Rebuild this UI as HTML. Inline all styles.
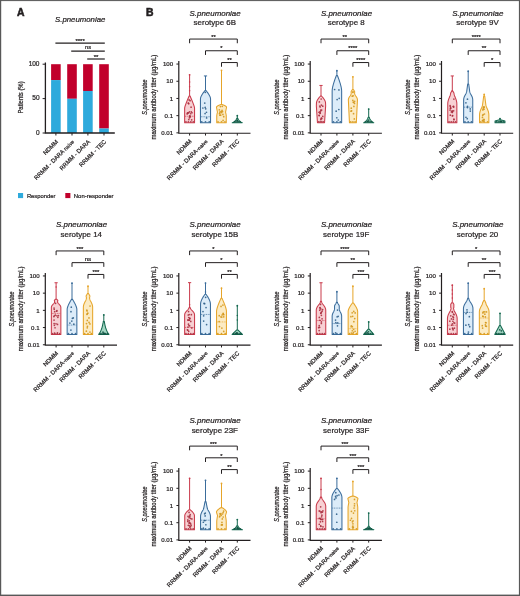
<!DOCTYPE html><html><head><meta charset="utf-8"><style>html,body{margin:0;padding:0;background:#fff;}svg{display:block;filter:blur(0.4px);}text{font-family:"Liberation Sans",sans-serif;stroke:#231f20;stroke-width:0.22px;}</style></head><body><svg width="520" height="596" viewBox="0 0 520 596" font-family="Liberation Sans, sans-serif">
<rect x="0" y="0" width="520" height="596" fill="#fff"/>
<text x="17.0" y="16.0" font-size="10.4" font-weight="bold" fill="#231f20" style="stroke-width:0.55px" textLength="7.5" lengthAdjust="spacingAndGlyphs">A</text>
<text x="145.9" y="16.0" font-size="10.4" font-weight="bold" fill="#231f20" style="stroke-width:0.55px">B</text>
<text x="80.2" y="21.6" font-style="italic" font-size="7.8" text-anchor="middle" fill="#231f20">S.pneumoniae</text>
<rect x="51.1" y="64.2" width="9.6" height="15.88" fill="#c1002b"/>
<rect x="51.1" y="80.08" width="9.6" height="52.92" fill="#2eaadc"/>
<rect x="67.2" y="64.2" width="9.6" height="34.58" fill="#c1002b"/>
<rect x="67.2" y="98.78" width="9.6" height="34.22" fill="#2eaadc"/>
<rect x="83.1" y="64.2" width="9.6" height="26.78" fill="#c1002b"/>
<rect x="83.1" y="90.98" width="9.6" height="42.02" fill="#2eaadc"/>
<rect x="99.2" y="64.2" width="9.6" height="64.31" fill="#c1002b"/>
<rect x="99.2" y="128.51" width="9.6" height="4.49" fill="#2eaadc"/>
<path d="M45.4,62.6 V133 H114.8" fill="none" stroke="#231f20" stroke-width="1.3"/>
<line x1="42.6" y1="64.2" x2="45.4" y2="64.2" stroke="#231f20" stroke-width="1"/>
<text x="39.5" y="65.8" font-size="6.5" text-anchor="end" fill="#231f20">100</text>
<line x1="42.6" y1="98.6" x2="45.4" y2="98.6" stroke="#231f20" stroke-width="1"/>
<text x="39.5" y="100.2" font-size="6.5" text-anchor="end" fill="#231f20">50</text>
<line x1="42.6" y1="133" x2="45.4" y2="133" stroke="#231f20" stroke-width="1"/>
<text x="39.5" y="134.6" font-size="6.5" text-anchor="end" fill="#231f20">0</text>
<text transform="translate(22.8,97.5) rotate(-90)" font-size="7.2" text-anchor="middle" fill="#231f20" textLength="32.2" lengthAdjust="spacingAndGlyphs">Patients (%)</text>
<line x1="55.9" y1="133" x2="55.9" y2="135.5" stroke="#231f20" stroke-width="1"/>
<text transform="translate(58.5,142.2) rotate(-45)" font-size="5.95" text-anchor="end" fill="#231f20">NDMM</text>
<line x1="72" y1="133" x2="72" y2="135.5" stroke="#231f20" stroke-width="1"/>
<text transform="translate(74.6,142.2) rotate(-45)" font-size="5.95" text-anchor="end" fill="#231f20">RRMM - DARA <tspan font-size="5.2">naive</tspan></text>
<line x1="87.9" y1="133" x2="87.9" y2="135.5" stroke="#231f20" stroke-width="1"/>
<text transform="translate(90.5,142.2) rotate(-45)" font-size="5.95" text-anchor="end" fill="#231f20">RRMM - DARA</text>
<line x1="104" y1="133" x2="104" y2="135.5" stroke="#231f20" stroke-width="1"/>
<text transform="translate(106.6,142.2) rotate(-45)" font-size="5.95" text-anchor="end" fill="#231f20">RRMM - TEC</text>
<line x1="55.4" y1="43.1" x2="104.8" y2="43.1" stroke="#231f20" stroke-width="1.2"/>
<text x="80.1" y="42.6" font-size="6" text-anchor="middle" fill="#231f20">****</text>
<line x1="71.2" y1="51.1" x2="104.8" y2="51.1" stroke="#231f20" stroke-width="1.2"/>
<text x="88" y="49.3" font-size="5.8" text-anchor="middle" fill="#231f20">ns</text>
<line x1="87.2" y1="59" x2="104.8" y2="59" stroke="#231f20" stroke-width="1.2"/>
<text x="96" y="58.6" font-size="6" text-anchor="middle" fill="#231f20">**</text>
<rect x="18" y="193" width="5.1" height="5.1" fill="#2eaadc"/>
<text x="26.9" y="197.9" font-size="6.1" fill="#231f20" textLength="28.6" lengthAdjust="spacingAndGlyphs">Responder</text>
<rect x="65.3" y="193" width="5.1" height="5.1" fill="#c1002b"/>
<text x="73.8" y="197.9" font-size="6.1" fill="#231f20" textLength="39.8" lengthAdjust="spacingAndGlyphs">Non-responder</text>
<text x="215.1" y="15.55" font-style="italic" font-size="7.95" text-anchor="middle" fill="#231f20">S.pneumoniae</text>
<text x="214.8" y="25.45" font-size="7.95" text-anchor="middle" fill="#231f20">serotype 6B</text>
<text transform="translate(147.3,97.05) rotate(-90)" font-style="italic" font-size="7.0" text-anchor="middle" fill="#231f20" textLength="35.2" lengthAdjust="spacingAndGlyphs">S.pneumoniae</text>
<text transform="translate(156.3,97.05) rotate(-90)" font-size="7.3" text-anchor="middle" fill="#231f20" textLength="84.8" lengthAdjust="spacingAndGlyphs">maximum antibody titer (µg/mL)</text>
<path d="M178.8,61.05 V133.25 H250.5" fill="none" stroke="#231f20" stroke-width="1.2"/>
<line x1="176.4" y1="64.05" x2="178.8" y2="64.05" stroke="#231f20" stroke-width="1"/>
<text x="173.1" y="66.25" font-size="6.1" text-anchor="end" fill="#231f20">100</text>
<line x1="176.4" y1="81.25" x2="178.8" y2="81.25" stroke="#231f20" stroke-width="1"/>
<text x="173.1" y="83.45" font-size="6.1" text-anchor="end" fill="#231f20">10</text>
<line x1="176.4" y1="98.45" x2="178.8" y2="98.45" stroke="#231f20" stroke-width="1"/>
<text x="173.1" y="100.65" font-size="6.1" text-anchor="end" fill="#231f20">1</text>
<line x1="176.4" y1="115.65" x2="178.8" y2="115.65" stroke="#231f20" stroke-width="1"/>
<text x="173.1" y="117.85" font-size="6.1" text-anchor="end" fill="#231f20">0.1</text>
<line x1="176.4" y1="132.85" x2="178.8" y2="132.85" stroke="#231f20" stroke-width="1"/>
<text x="173.1" y="135.05" font-size="6.1" text-anchor="end" fill="#231f20">0.01</text>
<line x1="189.6" y1="133.25" x2="189.6" y2="135.55" stroke="#231f20" stroke-width="1"/>
<text transform="translate(192.1,141.75) rotate(-45)" font-size="6.0" text-anchor="end" fill="#231f20">NDMM</text>
<line x1="205.5" y1="133.25" x2="205.5" y2="135.55" stroke="#231f20" stroke-width="1"/>
<text transform="translate(208,141.75) rotate(-45)" font-size="6.0" text-anchor="end" fill="#231f20">RRMM - DARA-<tspan font-size="5.0">naive</tspan></text>
<line x1="221.5" y1="133.25" x2="221.5" y2="135.55" stroke="#231f20" stroke-width="1"/>
<text transform="translate(224,141.75) rotate(-45)" font-size="6.0" text-anchor="end" fill="#231f20">RRMM - DARA</text>
<line x1="237.3" y1="133.25" x2="237.3" y2="135.55" stroke="#231f20" stroke-width="1"/>
<text transform="translate(239.8,141.75) rotate(-45)" font-size="6.0" text-anchor="end" fill="#231f20">RRMM - TEC</text>
<path d="M189.6,43.25 V39.05 H237.3 V43.25" fill="none" stroke="#231f20" stroke-width="1.0"/>
<text x="213.45" y="38.75" font-size="5.8" text-anchor="middle" fill="#231f20">**</text>
<path d="M205.5,54.95 V50.75 H237.3 V54.95" fill="none" stroke="#231f20" stroke-width="1.0"/>
<text x="221.4" y="50.45" font-size="5.8" text-anchor="middle" fill="#231f20">*</text>
<path d="M221.5,66.75 V62.55 H237.3 V66.75" fill="none" stroke="#231f20" stroke-width="1.0"/>
<text x="229.4" y="62.25" font-size="5.8" text-anchor="middle" fill="#231f20">**</text>
<line x1="189.6" y1="74.45" x2="189.6" y2="96.05" stroke="#c93a4b" stroke-width="1"/>
<circle cx="189.6" cy="74.85" r="0.9" fill="#c93a4b"/>
<path d="M190.1,96.05 L190.81,97.71 L191.46,99.24 L192.05,100.66 L192.57,101.97 L193.04,103.15 L193.44,104.22 L193.78,105.17 L194.06,106 L194.27,106.71 L194.43,107.31 L194.52,107.79 L194.55,108.15 L194.55,122.65 L184.65,122.65 L184.65,108.15 L184.68,107.79 L184.77,107.31 L184.93,106.71 L185.14,106 L185.42,105.17 L185.76,104.22 L186.16,103.15 L186.63,101.97 L187.15,100.66 L187.74,99.24 L188.39,97.71 L189.1,96.05 Z" fill="#f7d0d3" stroke="#c93a4b" stroke-width="1.05" stroke-linejoin="round"/>
<line x1="185.05" y1="116.25" x2="194.15" y2="116.25" stroke="#c93a4b" stroke-width="0.7" stroke-dasharray="1 0.7"/>
<circle cx="188.52" cy="103.34" r="0.85" fill="#a82e3e" fill-opacity="0.9"/>
<circle cx="188.8" cy="119.56" r="0.85" fill="#a82e3e" fill-opacity="0.9"/>
<circle cx="190.68" cy="113.76" r="0.85" fill="#a82e3e" fill-opacity="0.9"/>
<circle cx="190.08" cy="100.7" r="0.85" fill="#a82e3e" fill-opacity="0.9"/>
<circle cx="187.19" cy="113.96" r="0.85" fill="#a82e3e" fill-opacity="0.9"/>
<circle cx="191.28" cy="111.97" r="0.85" fill="#a82e3e" fill-opacity="0.9"/>
<circle cx="189.44" cy="111.88" r="0.85" fill="#a82e3e" fill-opacity="0.9"/>
<circle cx="189.81" cy="116.2" r="0.85" fill="#a82e3e" fill-opacity="0.9"/>
<circle cx="187.37" cy="113.07" r="0.85" fill="#a82e3e" fill-opacity="0.9"/>
<circle cx="191.08" cy="107.18" r="0.85" fill="#a82e3e" fill-opacity="0.9"/>
<circle cx="188.7" cy="103.76" r="0.85" fill="#a82e3e" fill-opacity="0.9"/>
<circle cx="189.42" cy="117.84" r="0.85" fill="#a82e3e" fill-opacity="0.9"/>
<circle cx="189.87" cy="115.81" r="0.85" fill="#a82e3e" fill-opacity="0.9"/>
<circle cx="187.87" cy="112.81" r="0.85" fill="#a82e3e" fill-opacity="0.9"/>
<circle cx="190.25" cy="116.91" r="0.85" fill="#a82e3e" fill-opacity="0.9"/>
<circle cx="188.26" cy="102.98" r="0.85" fill="#a82e3e" fill-opacity="0.9"/>
<circle cx="192.03" cy="112.75" r="0.85" fill="#a82e3e" fill-opacity="0.9"/>
<circle cx="188.44" cy="112.91" r="0.85" fill="#a82e3e" fill-opacity="0.9"/>
<circle cx="191.68" cy="119.84" r="0.85" fill="#a82e3e" fill-opacity="0.9"/>
<circle cx="189.1" cy="99.97" r="0.85" fill="#a82e3e" fill-opacity="0.9"/>
<circle cx="185.95" cy="121.75" r="0.85" fill="#a82e3e" fill-opacity="0.9"/>
<circle cx="188.38" cy="121.75" r="0.85" fill="#a82e3e" fill-opacity="0.9"/>
<circle cx="190.82" cy="121.75" r="0.85" fill="#a82e3e" fill-opacity="0.9"/>
<circle cx="193.25" cy="121.75" r="0.85" fill="#a82e3e" fill-opacity="0.9"/>
<circle cx="189.6" cy="81.95" r="0.75" fill="#c93a4b"/>
<circle cx="189.6" cy="86.65" r="0.75" fill="#c93a4b"/>
<circle cx="189.6" cy="90.65" r="0.75" fill="#c93a4b"/>
<line x1="205.5" y1="75.95" x2="205.5" y2="90.55" stroke="#3a6c9b" stroke-width="1"/>
<line x1="203.9" y1="75.95" x2="207.1" y2="75.95" stroke="#3a6c9b" stroke-width="1"/>
<path d="M206,90.55 L206.73,91.45 L207.39,92.32 L207.99,93.15 L208.53,93.95 L209,94.71 L209.41,95.44 L209.76,96.13 L210.04,96.78 L210.27,97.4 L210.42,97.99 L210.52,98.54 L210.55,99.05 L210.55,122.65 L200.45,122.65 L200.45,99.05 L200.48,98.54 L200.58,97.99 L200.73,97.4 L200.96,96.78 L201.24,96.13 L201.59,95.44 L202,94.71 L202.47,93.95 L203.01,93.15 L203.61,92.32 L204.27,91.45 L205,90.55 Z" fill="#dcecf9" stroke="#3a6c9b" stroke-width="1.05" stroke-linejoin="round"/>
<line x1="200.85" y1="116.75" x2="210.15" y2="116.75" stroke="#3a6c9b" stroke-width="0.7" stroke-dasharray="1 0.7"/>
<circle cx="206.45" cy="112.26" r="0.85" fill="#2f5f8a" fill-opacity="0.9"/>
<circle cx="205.73" cy="108.83" r="0.85" fill="#2f5f8a" fill-opacity="0.9"/>
<circle cx="205.07" cy="113.53" r="0.85" fill="#2f5f8a" fill-opacity="0.9"/>
<circle cx="206.61" cy="117.97" r="0.85" fill="#2f5f8a" fill-opacity="0.9"/>
<circle cx="204.75" cy="103.11" r="0.85" fill="#2f5f8a" fill-opacity="0.9"/>
<circle cx="205.18" cy="107.43" r="0.85" fill="#2f5f8a" fill-opacity="0.9"/>
<circle cx="205.28" cy="92.32" r="0.85" fill="#2f5f8a" fill-opacity="0.9"/>
<circle cx="202.88" cy="108" r="0.85" fill="#2f5f8a" fill-opacity="0.9"/>
<circle cx="201.75" cy="121.75" r="0.85" fill="#2f5f8a" fill-opacity="0.9"/>
<circle cx="205.5" cy="121.75" r="0.85" fill="#2f5f8a" fill-opacity="0.9"/>
<circle cx="209.25" cy="121.75" r="0.85" fill="#2f5f8a" fill-opacity="0.9"/>
<line x1="221.5" y1="69.95" x2="221.5" y2="104.45" stroke="#e6a52a" stroke-width="1"/>
<circle cx="221.5" cy="70.35" r="0.9" fill="#e6a52a"/>
<path d="M222,104.45 L222.73,104.73 L223.39,104.99 L223.99,105.25 L224.53,105.51 L225,105.75 L225.41,105.99 L225.76,106.22 L226.04,106.44 L226.27,106.66 L226.42,106.86 L226.52,107.06 L226.55,107.25 L225.55,112.15 L225.66,112.59 L225.76,113.02 L225.86,113.42 L225.94,113.8 L226.01,114.15 L226.07,114.49 L226.13,114.8 L226.17,115.1 L226.21,115.37 L226.23,115.62 L226.25,115.84 L226.25,116.05 L226.25,122.65 L216.75,122.65 L216.75,116.05 L216.75,115.84 L216.77,115.62 L216.79,115.37 L216.83,115.1 L216.87,114.8 L216.93,114.49 L216.99,114.15 L217.06,113.8 L217.14,113.42 L217.24,113.02 L217.34,112.59 L217.45,112.15 L216.45,107.25 L216.48,107.06 L216.58,106.86 L216.73,106.66 L216.96,106.44 L217.24,106.22 L217.59,105.99 L218,105.75 L218.47,105.51 L219.01,105.25 L219.61,104.99 L220.27,104.73 L221,104.45 Z" fill="#fcebc3" stroke="#e6a52a" stroke-width="1.05" stroke-linejoin="round"/>
<circle cx="219.32" cy="109.78" r="0.85" fill="#d4981c" fill-opacity="0.9"/>
<circle cx="222.56" cy="111.61" r="0.85" fill="#d4981c" fill-opacity="0.9"/>
<circle cx="219.85" cy="115.16" r="0.85" fill="#d4981c" fill-opacity="0.9"/>
<circle cx="222.3" cy="106.37" r="0.85" fill="#d4981c" fill-opacity="0.9"/>
<circle cx="219.89" cy="112.84" r="0.85" fill="#d4981c" fill-opacity="0.9"/>
<circle cx="221.24" cy="111.46" r="0.85" fill="#d4981c" fill-opacity="0.9"/>
<circle cx="220.67" cy="115.21" r="0.85" fill="#d4981c" fill-opacity="0.9"/>
<circle cx="223.72" cy="116.68" r="0.85" fill="#d4981c" fill-opacity="0.9"/>
<circle cx="219.49" cy="113.57" r="0.85" fill="#d4981c" fill-opacity="0.9"/>
<circle cx="221.52" cy="112.6" r="0.85" fill="#d4981c" fill-opacity="0.9"/>
<circle cx="223.08" cy="120.42" r="0.85" fill="#d4981c" fill-opacity="0.9"/>
<circle cx="222.93" cy="114.43" r="0.85" fill="#d4981c" fill-opacity="0.9"/>
<circle cx="222.06" cy="110.27" r="0.85" fill="#d4981c" fill-opacity="0.9"/>
<circle cx="220.03" cy="111.73" r="0.85" fill="#d4981c" fill-opacity="0.9"/>
<circle cx="220.43" cy="106.61" r="0.85" fill="#d4981c" fill-opacity="0.9"/>
<circle cx="218.05" cy="121.75" r="0.85" fill="#d4981c" fill-opacity="0.9"/>
<circle cx="221.5" cy="121.75" r="0.85" fill="#d4981c" fill-opacity="0.9"/>
<circle cx="224.95" cy="121.75" r="0.85" fill="#d4981c" fill-opacity="0.9"/>
<line x1="237.3" y1="115.25" x2="237.3" y2="118.35" stroke="#14684f" stroke-width="1"/>
<circle cx="237.3" cy="115.65" r="0.9" fill="#14684f"/>
<path d="M237.8,118.35 L238.04,118.84 L238.31,119.31 L238.6,119.75 L238.91,120.17 L239.25,120.56 L239.62,120.93 L240.01,121.28 L240.43,121.6 L240.87,121.9 L241.34,122.17 L241.83,122.42 L242.35,122.65 L232.25,122.65 L232.77,122.42 L233.26,122.17 L233.73,121.9 L234.17,121.6 L234.59,121.28 L234.98,120.93 L235.35,120.56 L235.69,120.17 L236,119.75 L236.29,119.31 L236.56,118.84 L236.8,118.35 Z" fill="#a3d6c3" stroke="#14684f" stroke-width="1.05" stroke-linejoin="round"/>
<circle cx="237.3" cy="120.28" r="0.85" fill="#0f5040" fill-opacity="0.9"/>
<circle cx="237.13" cy="120.32" r="0.85" fill="#0f5040" fill-opacity="0.9"/>
<circle cx="234.6" cy="121.75" r="0.85" fill="#0f5040" fill-opacity="0.9"/>
<circle cx="235.95" cy="121.75" r="0.85" fill="#0f5040" fill-opacity="0.9"/>
<circle cx="237.3" cy="121.75" r="0.85" fill="#0f5040" fill-opacity="0.9"/>
<circle cx="238.65" cy="121.75" r="0.85" fill="#0f5040" fill-opacity="0.9"/>
<circle cx="240" cy="121.75" r="0.85" fill="#0f5040" fill-opacity="0.9"/>
<text x="346.5" y="15.55" font-style="italic" font-size="7.95" text-anchor="middle" fill="#231f20">S.pneumoniae</text>
<text x="346.2" y="25.45" font-size="7.95" text-anchor="middle" fill="#231f20">serotype 8</text>
<text transform="translate(278.7,97.05) rotate(-90)" font-style="italic" font-size="7.0" text-anchor="middle" fill="#231f20" textLength="35.2" lengthAdjust="spacingAndGlyphs">S.pneumoniae</text>
<text transform="translate(287.7,97.05) rotate(-90)" font-size="7.3" text-anchor="middle" fill="#231f20" textLength="84.8" lengthAdjust="spacingAndGlyphs">maximum antibody titer (µg/mL)</text>
<path d="M310.2,61.05 V133.25 H381.9" fill="none" stroke="#231f20" stroke-width="1.2"/>
<line x1="307.8" y1="64.05" x2="310.2" y2="64.05" stroke="#231f20" stroke-width="1"/>
<text x="304.5" y="66.25" font-size="6.1" text-anchor="end" fill="#231f20">100</text>
<line x1="307.8" y1="81.25" x2="310.2" y2="81.25" stroke="#231f20" stroke-width="1"/>
<text x="304.5" y="83.45" font-size="6.1" text-anchor="end" fill="#231f20">10</text>
<line x1="307.8" y1="98.45" x2="310.2" y2="98.45" stroke="#231f20" stroke-width="1"/>
<text x="304.5" y="100.65" font-size="6.1" text-anchor="end" fill="#231f20">1</text>
<line x1="307.8" y1="115.65" x2="310.2" y2="115.65" stroke="#231f20" stroke-width="1"/>
<text x="304.5" y="117.85" font-size="6.1" text-anchor="end" fill="#231f20">0.1</text>
<line x1="307.8" y1="132.85" x2="310.2" y2="132.85" stroke="#231f20" stroke-width="1"/>
<text x="304.5" y="135.05" font-size="6.1" text-anchor="end" fill="#231f20">0.01</text>
<line x1="321" y1="133.25" x2="321" y2="135.55" stroke="#231f20" stroke-width="1"/>
<text transform="translate(323.5,141.75) rotate(-45)" font-size="6.0" text-anchor="end" fill="#231f20">NDMM</text>
<line x1="336.9" y1="133.25" x2="336.9" y2="135.55" stroke="#231f20" stroke-width="1"/>
<text transform="translate(339.4,141.75) rotate(-45)" font-size="6.0" text-anchor="end" fill="#231f20">RRMM - DARA-<tspan font-size="5.0">naive</tspan></text>
<line x1="352.9" y1="133.25" x2="352.9" y2="135.55" stroke="#231f20" stroke-width="1"/>
<text transform="translate(355.4,141.75) rotate(-45)" font-size="6.0" text-anchor="end" fill="#231f20">RRMM - DARA</text>
<line x1="368.7" y1="133.25" x2="368.7" y2="135.55" stroke="#231f20" stroke-width="1"/>
<text transform="translate(371.2,141.75) rotate(-45)" font-size="6.0" text-anchor="end" fill="#231f20">RRMM - TEC</text>
<path d="M321,43.25 V39.05 H368.7 V43.25" fill="none" stroke="#231f20" stroke-width="1.0"/>
<text x="344.85" y="38.75" font-size="5.8" text-anchor="middle" fill="#231f20">**</text>
<path d="M336.9,54.95 V50.75 H368.7 V54.95" fill="none" stroke="#231f20" stroke-width="1.0"/>
<text x="352.8" y="50.45" font-size="5.8" text-anchor="middle" fill="#231f20">****</text>
<path d="M352.9,66.75 V62.55 H368.7 V66.75" fill="none" stroke="#231f20" stroke-width="1.0"/>
<text x="360.8" y="62.25" font-size="5.8" text-anchor="middle" fill="#231f20">****</text>
<line x1="321" y1="85.45" x2="321" y2="96.05" stroke="#c93a4b" stroke-width="1"/>
<line x1="319.4" y1="85.45" x2="322.6" y2="85.45" stroke="#c93a4b" stroke-width="1"/>
<path d="M321.5,96.05 L322.15,96.75 L322.74,97.43 L323.27,98.09 L323.75,98.73 L324.17,99.35 L324.54,99.96 L324.85,100.54 L325.1,101.1 L325.3,101.64 L325.44,102.16 L325.52,102.67 L325.55,103.15 L325.57,103.55 L325.58,103.92 L325.59,104.26 L325.61,104.57 L325.62,104.85 L325.62,105.11 L325.63,105.34 L325.64,105.53 L325.64,105.71 L325.65,105.85 L325.65,105.96 L325.65,106.05 L324.55,122.65 L317.45,122.65 L316.35,106.05 L316.35,105.96 L316.35,105.85 L316.36,105.71 L316.36,105.53 L316.37,105.34 L316.38,105.11 L316.38,104.85 L316.39,104.57 L316.41,104.26 L316.42,103.92 L316.43,103.55 L316.45,103.15 L316.48,102.67 L316.56,102.16 L316.7,101.64 L316.9,101.1 L317.15,100.54 L317.46,99.96 L317.83,99.35 L318.25,98.73 L318.73,98.09 L319.26,97.43 L319.85,96.75 L320.5,96.05 Z" fill="#f7d0d3" stroke="#c93a4b" stroke-width="1.05" stroke-linejoin="round"/>
<circle cx="321.64" cy="110.11" r="0.85" fill="#a82e3e" fill-opacity="0.9"/>
<circle cx="322.75" cy="106.16" r="0.85" fill="#a82e3e" fill-opacity="0.9"/>
<circle cx="318.99" cy="112.23" r="0.85" fill="#a82e3e" fill-opacity="0.9"/>
<circle cx="319.36" cy="101.91" r="0.85" fill="#a82e3e" fill-opacity="0.9"/>
<circle cx="321.36" cy="118.17" r="0.85" fill="#a82e3e" fill-opacity="0.9"/>
<circle cx="321.33" cy="118.62" r="0.85" fill="#a82e3e" fill-opacity="0.9"/>
<circle cx="319.88" cy="106.03" r="0.85" fill="#a82e3e" fill-opacity="0.9"/>
<circle cx="320.12" cy="106.99" r="0.85" fill="#a82e3e" fill-opacity="0.9"/>
<circle cx="320.82" cy="119.61" r="0.85" fill="#a82e3e" fill-opacity="0.9"/>
<circle cx="320.25" cy="112.94" r="0.85" fill="#a82e3e" fill-opacity="0.9"/>
<circle cx="319.93" cy="111.82" r="0.85" fill="#a82e3e" fill-opacity="0.9"/>
<circle cx="320.68" cy="111" r="0.85" fill="#a82e3e" fill-opacity="0.9"/>
<circle cx="319.09" cy="115.36" r="0.85" fill="#a82e3e" fill-opacity="0.9"/>
<circle cx="321.42" cy="105.12" r="0.85" fill="#a82e3e" fill-opacity="0.9"/>
<circle cx="321.16" cy="99.02" r="0.85" fill="#a82e3e" fill-opacity="0.9"/>
<circle cx="319.23" cy="115.61" r="0.85" fill="#a82e3e" fill-opacity="0.9"/>
<circle cx="321.71" cy="118.48" r="0.85" fill="#a82e3e" fill-opacity="0.9"/>
<circle cx="320.09" cy="113.28" r="0.85" fill="#a82e3e" fill-opacity="0.9"/>
<circle cx="322.76" cy="116.4" r="0.85" fill="#a82e3e" fill-opacity="0.9"/>
<circle cx="320.76" cy="110" r="0.85" fill="#a82e3e" fill-opacity="0.9"/>
<circle cx="318.72" cy="121.75" r="0.85" fill="#a82e3e" fill-opacity="0.9"/>
<circle cx="320.24" cy="121.75" r="0.85" fill="#a82e3e" fill-opacity="0.9"/>
<circle cx="321.76" cy="121.75" r="0.85" fill="#a82e3e" fill-opacity="0.9"/>
<circle cx="323.28" cy="121.75" r="0.85" fill="#a82e3e" fill-opacity="0.9"/>
<line x1="336.9" y1="70.35" x2="336.9" y2="75.45" stroke="#3a6c9b" stroke-width="1"/>
<circle cx="336.9" cy="70.75" r="0.9" fill="#3a6c9b"/>
<path d="M337.4,75.45 L338.08,77.23 L338.7,78.92 L339.26,80.52 L339.76,82.04 L340.2,83.47 L340.59,84.81 L340.91,86.07 L341.18,87.24 L341.38,88.32 L341.53,89.32 L341.62,90.23 L341.65,91.05 L341.65,122.65 L332.15,122.65 L332.15,91.05 L332.18,90.23 L332.27,89.32 L332.42,88.32 L332.62,87.24 L332.89,86.07 L333.21,84.81 L333.6,83.47 L334.04,82.04 L334.54,80.52 L335.1,78.92 L335.72,77.23 L336.4,75.45 Z" fill="#dcecf9" stroke="#3a6c9b" stroke-width="1.05" stroke-linejoin="round"/>
<circle cx="334.61" cy="89.52" r="0.85" fill="#2f5f8a" fill-opacity="0.9"/>
<circle cx="338.83" cy="109.52" r="0.85" fill="#2f5f8a" fill-opacity="0.9"/>
<circle cx="338.27" cy="119.99" r="0.85" fill="#2f5f8a" fill-opacity="0.9"/>
<circle cx="338.94" cy="89.88" r="0.85" fill="#2f5f8a" fill-opacity="0.9"/>
<circle cx="336.81" cy="117.76" r="0.85" fill="#2f5f8a" fill-opacity="0.9"/>
<circle cx="336.16" cy="111.18" r="0.85" fill="#2f5f8a" fill-opacity="0.9"/>
<circle cx="339.2" cy="98.3" r="0.85" fill="#2f5f8a" fill-opacity="0.9"/>
<circle cx="337.12" cy="99.53" r="0.85" fill="#2f5f8a" fill-opacity="0.9"/>
<circle cx="333.45" cy="121.75" r="0.85" fill="#2f5f8a" fill-opacity="0.9"/>
<circle cx="336.9" cy="121.75" r="0.85" fill="#2f5f8a" fill-opacity="0.9"/>
<circle cx="340.35" cy="121.75" r="0.85" fill="#2f5f8a" fill-opacity="0.9"/>
<line x1="352.9" y1="76.45" x2="352.9" y2="89.55" stroke="#e6a52a" stroke-width="1"/>
<circle cx="352.9" cy="76.85" r="0.9" fill="#e6a52a"/>
<path d="M353.4,89.55 L354.65,91.55 L354.65,93.55 L354.73,93.97 L354.85,94.36 L355.01,94.74 L355.21,95.11 L355.42,95.48 L355.66,95.84 L355.91,96.19 L356.15,96.56 L356.4,96.93 L356.64,97.31 L356.86,97.7 L357.05,98.12 L357.22,98.56 L357.34,99.02 L357.42,99.52 L357.45,100.05 L356.35,122.65 L349.45,122.65 L348.35,100.05 L348.38,99.52 L348.46,99.02 L348.58,98.56 L348.75,98.12 L348.94,97.7 L349.16,97.31 L349.4,96.93 L349.64,96.56 L349.89,96.19 L350.14,95.84 L350.38,95.48 L350.59,95.11 L350.79,94.74 L350.95,94.36 L351.07,93.97 L351.15,93.55 L351.15,91.55 L352.4,89.55 Z" fill="#fcebc3" stroke="#e6a52a" stroke-width="1.05" stroke-linejoin="round"/>
<circle cx="351.26" cy="108.17" r="0.85" fill="#d4981c" fill-opacity="0.9"/>
<circle cx="354.5" cy="103.42" r="0.85" fill="#d4981c" fill-opacity="0.9"/>
<circle cx="353.52" cy="102.33" r="0.85" fill="#d4981c" fill-opacity="0.9"/>
<circle cx="351.61" cy="110.8" r="0.85" fill="#d4981c" fill-opacity="0.9"/>
<circle cx="353.42" cy="102.27" r="0.85" fill="#d4981c" fill-opacity="0.9"/>
<circle cx="352.22" cy="96.19" r="0.85" fill="#d4981c" fill-opacity="0.9"/>
<circle cx="353.89" cy="106.44" r="0.85" fill="#d4981c" fill-opacity="0.9"/>
<circle cx="353.54" cy="113.69" r="0.85" fill="#d4981c" fill-opacity="0.9"/>
<circle cx="353.15" cy="95.84" r="0.85" fill="#d4981c" fill-opacity="0.9"/>
<circle cx="351.01" cy="111.2" r="0.85" fill="#d4981c" fill-opacity="0.9"/>
<circle cx="354.63" cy="101.32" r="0.85" fill="#d4981c" fill-opacity="0.9"/>
<circle cx="352.87" cy="92.29" r="0.85" fill="#d4981c" fill-opacity="0.9"/>
<circle cx="352.84" cy="100.47" r="0.85" fill="#d4981c" fill-opacity="0.9"/>
<circle cx="354.3" cy="118.92" r="0.85" fill="#d4981c" fill-opacity="0.9"/>
<circle cx="353.05" cy="91.78" r="0.85" fill="#d4981c" fill-opacity="0.9"/>
<circle cx="350.73" cy="121.75" r="0.85" fill="#d4981c" fill-opacity="0.9"/>
<circle cx="352.9" cy="121.75" r="0.85" fill="#d4981c" fill-opacity="0.9"/>
<circle cx="355.07" cy="121.75" r="0.85" fill="#d4981c" fill-opacity="0.9"/>
<line x1="368.7" y1="108.65" x2="368.7" y2="117.25" stroke="#14684f" stroke-width="1"/>
<circle cx="368.7" cy="109.05" r="0.9" fill="#14684f"/>
<path d="M369.2,117.25 L369.44,117.86 L369.71,118.45 L370,119.01 L370.31,119.53 L370.65,120.02 L371.02,120.49 L371.41,120.93 L371.83,121.33 L372.27,121.71 L372.74,122.05 L373.23,122.37 L373.75,122.65 L363.65,122.65 L364.17,122.37 L364.66,122.05 L365.13,121.71 L365.57,121.33 L365.99,120.93 L366.38,120.49 L366.75,120.02 L367.09,119.53 L367.4,119.01 L367.69,118.45 L367.96,117.86 L368.2,117.25 Z" fill="#a3d6c3" stroke="#14684f" stroke-width="1.05" stroke-linejoin="round"/>
<circle cx="367.8" cy="121.11" r="0.85" fill="#0f5040" fill-opacity="0.9"/>
<circle cx="368.75" cy="120.04" r="0.85" fill="#0f5040" fill-opacity="0.9"/>
<circle cx="365.8" cy="121.75" r="0.85" fill="#0f5040" fill-opacity="0.9"/>
<circle cx="367.25" cy="121.75" r="0.85" fill="#0f5040" fill-opacity="0.9"/>
<circle cx="368.7" cy="121.75" r="0.85" fill="#0f5040" fill-opacity="0.9"/>
<circle cx="370.15" cy="121.75" r="0.85" fill="#0f5040" fill-opacity="0.9"/>
<circle cx="371.6" cy="121.75" r="0.85" fill="#0f5040" fill-opacity="0.9"/>
<text x="477.8" y="15.55" font-style="italic" font-size="7.95" text-anchor="middle" fill="#231f20">S.pneumoniae</text>
<text x="477.5" y="25.45" font-size="7.95" text-anchor="middle" fill="#231f20">serotype 9V</text>
<text transform="translate(410,97.05) rotate(-90)" font-style="italic" font-size="7.0" text-anchor="middle" fill="#231f20" textLength="35.2" lengthAdjust="spacingAndGlyphs">S.pneumoniae</text>
<text transform="translate(419,97.05) rotate(-90)" font-size="7.3" text-anchor="middle" fill="#231f20" textLength="84.8" lengthAdjust="spacingAndGlyphs">maximum antibody titer (µg/mL)</text>
<path d="M441.5,61.05 V133.25 H513.2" fill="none" stroke="#231f20" stroke-width="1.2"/>
<line x1="439.1" y1="64.05" x2="441.5" y2="64.05" stroke="#231f20" stroke-width="1"/>
<text x="435.8" y="66.25" font-size="6.1" text-anchor="end" fill="#231f20">100</text>
<line x1="439.1" y1="81.25" x2="441.5" y2="81.25" stroke="#231f20" stroke-width="1"/>
<text x="435.8" y="83.45" font-size="6.1" text-anchor="end" fill="#231f20">10</text>
<line x1="439.1" y1="98.45" x2="441.5" y2="98.45" stroke="#231f20" stroke-width="1"/>
<text x="435.8" y="100.65" font-size="6.1" text-anchor="end" fill="#231f20">1</text>
<line x1="439.1" y1="115.65" x2="441.5" y2="115.65" stroke="#231f20" stroke-width="1"/>
<text x="435.8" y="117.85" font-size="6.1" text-anchor="end" fill="#231f20">0.1</text>
<line x1="439.1" y1="132.85" x2="441.5" y2="132.85" stroke="#231f20" stroke-width="1"/>
<text x="435.8" y="135.05" font-size="6.1" text-anchor="end" fill="#231f20">0.01</text>
<line x1="452.3" y1="133.25" x2="452.3" y2="135.55" stroke="#231f20" stroke-width="1"/>
<text transform="translate(454.8,141.75) rotate(-45)" font-size="6.0" text-anchor="end" fill="#231f20">NDMM</text>
<line x1="468.2" y1="133.25" x2="468.2" y2="135.55" stroke="#231f20" stroke-width="1"/>
<text transform="translate(470.7,141.75) rotate(-45)" font-size="6.0" text-anchor="end" fill="#231f20">RRMM - DARA-<tspan font-size="5.0">naive</tspan></text>
<line x1="484.2" y1="133.25" x2="484.2" y2="135.55" stroke="#231f20" stroke-width="1"/>
<text transform="translate(486.7,141.75) rotate(-45)" font-size="6.0" text-anchor="end" fill="#231f20">RRMM - DARA</text>
<line x1="500" y1="133.25" x2="500" y2="135.55" stroke="#231f20" stroke-width="1"/>
<text transform="translate(502.5,141.75) rotate(-45)" font-size="6.0" text-anchor="end" fill="#231f20">RRMM - TEC</text>
<path d="M452.3,43.25 V39.05 H500 V43.25" fill="none" stroke="#231f20" stroke-width="1.0"/>
<text x="476.15" y="38.75" font-size="5.8" text-anchor="middle" fill="#231f20">****</text>
<path d="M468.2,54.95 V50.75 H500 V54.95" fill="none" stroke="#231f20" stroke-width="1.0"/>
<text x="484.1" y="50.45" font-size="5.8" text-anchor="middle" fill="#231f20">**</text>
<path d="M484.2,66.75 V62.55 H500 V66.75" fill="none" stroke="#231f20" stroke-width="1.0"/>
<text x="492.1" y="62.25" font-size="5.8" text-anchor="middle" fill="#231f20">*</text>
<line x1="452.3" y1="75.95" x2="452.3" y2="91.05" stroke="#c93a4b" stroke-width="1"/>
<line x1="450.7" y1="75.95" x2="453.9" y2="75.95" stroke="#c93a4b" stroke-width="1"/>
<path d="M452.8,91.05 L453.95,93.05 L454.03,93.75 L454.16,94.42 L454.33,95.07 L454.53,95.7 L454.75,96.31 L455,96.92 L455.25,97.52 L455.51,98.14 L455.76,98.76 L456.01,99.41 L456.24,100.08 L456.44,100.78 L456.61,101.53 L456.74,102.31 L456.82,103.15 L456.85,104.05 L456.85,122.65 L447.75,122.65 L447.75,104.05 L447.78,103.15 L447.86,102.31 L447.99,101.53 L448.16,100.78 L448.36,100.08 L448.59,99.41 L448.84,98.76 L449.09,98.14 L449.35,97.52 L449.6,96.92 L449.85,96.31 L450.07,95.7 L450.27,95.07 L450.44,94.42 L450.57,93.75 L450.65,93.05 L451.8,91.05 Z" fill="#f7d0d3" stroke="#c93a4b" stroke-width="1.05" stroke-linejoin="round"/>
<circle cx="452.41" cy="111.61" r="0.85" fill="#a82e3e" fill-opacity="0.9"/>
<circle cx="453.59" cy="110.8" r="0.85" fill="#a82e3e" fill-opacity="0.9"/>
<circle cx="453.95" cy="119.22" r="0.85" fill="#a82e3e" fill-opacity="0.9"/>
<circle cx="453.73" cy="107.05" r="0.85" fill="#a82e3e" fill-opacity="0.9"/>
<circle cx="452.62" cy="115.48" r="0.85" fill="#a82e3e" fill-opacity="0.9"/>
<circle cx="453.13" cy="106.59" r="0.85" fill="#a82e3e" fill-opacity="0.9"/>
<circle cx="453.87" cy="99.12" r="0.85" fill="#a82e3e" fill-opacity="0.9"/>
<circle cx="450.43" cy="106.24" r="0.85" fill="#a82e3e" fill-opacity="0.9"/>
<circle cx="450.56" cy="108.33" r="0.85" fill="#a82e3e" fill-opacity="0.9"/>
<circle cx="450.05" cy="110.1" r="0.85" fill="#a82e3e" fill-opacity="0.9"/>
<circle cx="452.1" cy="110.82" r="0.85" fill="#a82e3e" fill-opacity="0.9"/>
<circle cx="452.43" cy="115.89" r="0.85" fill="#a82e3e" fill-opacity="0.9"/>
<circle cx="452.32" cy="112.38" r="0.85" fill="#a82e3e" fill-opacity="0.9"/>
<circle cx="450.3" cy="115.19" r="0.85" fill="#a82e3e" fill-opacity="0.9"/>
<circle cx="451.38" cy="111.96" r="0.85" fill="#a82e3e" fill-opacity="0.9"/>
<circle cx="453.9" cy="119.64" r="0.85" fill="#a82e3e" fill-opacity="0.9"/>
<circle cx="450.59" cy="107.67" r="0.85" fill="#a82e3e" fill-opacity="0.9"/>
<circle cx="450.51" cy="108.44" r="0.85" fill="#a82e3e" fill-opacity="0.9"/>
<circle cx="453.54" cy="106.34" r="0.85" fill="#a82e3e" fill-opacity="0.9"/>
<circle cx="450.08" cy="105.65" r="0.85" fill="#a82e3e" fill-opacity="0.9"/>
<circle cx="449.05" cy="121.75" r="0.85" fill="#a82e3e" fill-opacity="0.9"/>
<circle cx="451.22" cy="121.75" r="0.85" fill="#a82e3e" fill-opacity="0.9"/>
<circle cx="453.38" cy="121.75" r="0.85" fill="#a82e3e" fill-opacity="0.9"/>
<circle cx="455.55" cy="121.75" r="0.85" fill="#a82e3e" fill-opacity="0.9"/>
<circle cx="452.3" cy="90.65" r="0.75" fill="#c93a4b"/>
<line x1="468.2" y1="70.85" x2="468.2" y2="83.95" stroke="#3a6c9b" stroke-width="1"/>
<circle cx="468.2" cy="71.25" r="0.9" fill="#3a6c9b"/>
<path d="M468.7,83.95 L469.65,91.05 L469.74,91.63 L469.87,92.17 L470.05,92.7 L470.27,93.22 L470.51,93.72 L470.77,94.21 L471.04,94.71 L471.32,95.21 L471.59,95.72 L471.85,96.25 L472.09,96.8 L472.31,97.38 L472.49,97.99 L472.63,98.63 L472.72,99.32 L472.75,100.05 L472.75,122.65 L463.65,122.65 L463.65,100.05 L463.68,99.32 L463.77,98.63 L463.91,97.99 L464.09,97.38 L464.31,96.8 L464.55,96.25 L464.81,95.72 L465.08,95.21 L465.36,94.71 L465.63,94.21 L465.89,93.72 L466.13,93.22 L466.35,92.7 L466.53,92.17 L466.66,91.63 L466.75,91.05 L467.7,83.95 Z" fill="#dcecf9" stroke="#3a6c9b" stroke-width="1.05" stroke-linejoin="round"/>
<line x1="464.05" y1="107.15" x2="472.35" y2="107.15" stroke="#3a6c9b" stroke-width="0.7" stroke-dasharray="1 0.7"/>
<circle cx="467.47" cy="107.59" r="0.85" fill="#2f5f8a" fill-opacity="0.9"/>
<circle cx="467.25" cy="118.7" r="0.85" fill="#2f5f8a" fill-opacity="0.9"/>
<circle cx="465.97" cy="117.26" r="0.85" fill="#2f5f8a" fill-opacity="0.9"/>
<circle cx="470.22" cy="108.94" r="0.85" fill="#2f5f8a" fill-opacity="0.9"/>
<circle cx="470.28" cy="111.12" r="0.85" fill="#2f5f8a" fill-opacity="0.9"/>
<circle cx="465.93" cy="102.87" r="0.85" fill="#2f5f8a" fill-opacity="0.9"/>
<circle cx="467.47" cy="99.2" r="0.85" fill="#2f5f8a" fill-opacity="0.9"/>
<circle cx="467.51" cy="106.35" r="0.85" fill="#2f5f8a" fill-opacity="0.9"/>
<circle cx="464.95" cy="121.75" r="0.85" fill="#2f5f8a" fill-opacity="0.9"/>
<circle cx="468.2" cy="121.75" r="0.85" fill="#2f5f8a" fill-opacity="0.9"/>
<circle cx="471.45" cy="121.75" r="0.85" fill="#2f5f8a" fill-opacity="0.9"/>
<line x1="484.2" y1="94.05" x2="484.2" y2="96.05" stroke="#e6a52a" stroke-width="1"/>
<circle cx="484.2" cy="94.45" r="0.9" fill="#e6a52a"/>
<path d="M484.7,96.05 L485.75,104.05 L485.84,104.75 L485.97,105.42 L486.15,106.07 L486.37,106.7 L486.61,107.31 L486.87,107.92 L487.14,108.52 L487.42,109.14 L487.69,109.76 L487.95,110.41 L488.19,111.08 L488.41,111.78 L488.59,112.53 L488.73,113.31 L488.82,114.15 L488.85,115.05 L488.85,122.65 L479.55,122.65 L479.55,115.05 L479.58,114.15 L479.67,113.31 L479.81,112.53 L479.99,111.78 L480.21,111.08 L480.45,110.41 L480.71,109.76 L480.98,109.14 L481.26,108.52 L481.53,107.92 L481.79,107.31 L482.03,106.7 L482.25,106.07 L482.43,105.42 L482.56,104.75 L482.65,104.05 L483.7,96.05 Z" fill="#fcebc3" stroke="#e6a52a" stroke-width="1.05" stroke-linejoin="round"/>
<circle cx="482.64" cy="115.28" r="0.85" fill="#d4981c" fill-opacity="0.9"/>
<circle cx="483.16" cy="121.05" r="0.85" fill="#d4981c" fill-opacity="0.9"/>
<circle cx="483.95" cy="106.8" r="0.85" fill="#d4981c" fill-opacity="0.9"/>
<circle cx="484.1" cy="119.89" r="0.85" fill="#d4981c" fill-opacity="0.9"/>
<circle cx="484.02" cy="109.21" r="0.85" fill="#d4981c" fill-opacity="0.9"/>
<circle cx="483.26" cy="108.95" r="0.85" fill="#d4981c" fill-opacity="0.9"/>
<circle cx="483.2" cy="114.56" r="0.85" fill="#d4981c" fill-opacity="0.9"/>
<circle cx="482.45" cy="117.46" r="0.85" fill="#d4981c" fill-opacity="0.9"/>
<circle cx="482.47" cy="120.36" r="0.85" fill="#d4981c" fill-opacity="0.9"/>
<circle cx="483.92" cy="119.41" r="0.85" fill="#d4981c" fill-opacity="0.9"/>
<circle cx="483.42" cy="107.41" r="0.85" fill="#d4981c" fill-opacity="0.9"/>
<circle cx="482.81" cy="120.69" r="0.85" fill="#d4981c" fill-opacity="0.9"/>
<circle cx="482.87" cy="109.94" r="0.85" fill="#d4981c" fill-opacity="0.9"/>
<circle cx="484.18" cy="107.23" r="0.85" fill="#d4981c" fill-opacity="0.9"/>
<circle cx="484.46" cy="114.02" r="0.85" fill="#d4981c" fill-opacity="0.9"/>
<circle cx="480.85" cy="121.75" r="0.85" fill="#d4981c" fill-opacity="0.9"/>
<circle cx="484.2" cy="121.75" r="0.85" fill="#d4981c" fill-opacity="0.9"/>
<circle cx="487.55" cy="121.75" r="0.85" fill="#d4981c" fill-opacity="0.9"/>
<line x1="500" y1="118.25" x2="500" y2="119.85" stroke="#14684f" stroke-width="1"/>
<circle cx="500" cy="118.65" r="0.9" fill="#14684f"/>
<path d="M500.5,119.85 L504.95,120.95 L504.95,122.65 L495.05,122.65 L495.05,120.95 L499.5,119.85 Z" fill="#a3d6c3" stroke="#14684f" stroke-width="1.05" stroke-linejoin="round"/>
<circle cx="501.32" cy="121.44" r="0.85" fill="#0f5040" fill-opacity="0.9"/>
<circle cx="500.32" cy="121.41" r="0.85" fill="#0f5040" fill-opacity="0.9"/>
<circle cx="496.35" cy="121.75" r="0.85" fill="#0f5040" fill-opacity="0.9"/>
<circle cx="498.18" cy="121.75" r="0.85" fill="#0f5040" fill-opacity="0.9"/>
<circle cx="500" cy="121.75" r="0.85" fill="#0f5040" fill-opacity="0.9"/>
<circle cx="501.82" cy="121.75" r="0.85" fill="#0f5040" fill-opacity="0.9"/>
<circle cx="503.65" cy="121.75" r="0.85" fill="#0f5040" fill-opacity="0.9"/>
<text x="81.6" y="227.45" font-style="italic" font-size="7.95" text-anchor="middle" fill="#231f20">S.pneumoniae</text>
<text x="81.3" y="237.35" font-size="7.95" text-anchor="middle" fill="#231f20">serotype 14</text>
<text transform="translate(13.8,308.95) rotate(-90)" font-style="italic" font-size="7.0" text-anchor="middle" fill="#231f20" textLength="35.2" lengthAdjust="spacingAndGlyphs">S.pneumoniae</text>
<text transform="translate(22.8,308.95) rotate(-90)" font-size="7.3" text-anchor="middle" fill="#231f20" textLength="84.8" lengthAdjust="spacingAndGlyphs">maximum antibody titer (µg/mL)</text>
<path d="M45.3,272.95 V345.15 H117" fill="none" stroke="#231f20" stroke-width="1.2"/>
<line x1="42.9" y1="275.95" x2="45.3" y2="275.95" stroke="#231f20" stroke-width="1"/>
<text x="39.6" y="278.15" font-size="6.1" text-anchor="end" fill="#231f20">100</text>
<line x1="42.9" y1="293.15" x2="45.3" y2="293.15" stroke="#231f20" stroke-width="1"/>
<text x="39.6" y="295.35" font-size="6.1" text-anchor="end" fill="#231f20">10</text>
<line x1="42.9" y1="310.35" x2="45.3" y2="310.35" stroke="#231f20" stroke-width="1"/>
<text x="39.6" y="312.55" font-size="6.1" text-anchor="end" fill="#231f20">1</text>
<line x1="42.9" y1="327.55" x2="45.3" y2="327.55" stroke="#231f20" stroke-width="1"/>
<text x="39.6" y="329.75" font-size="6.1" text-anchor="end" fill="#231f20">0.1</text>
<line x1="42.9" y1="344.75" x2="45.3" y2="344.75" stroke="#231f20" stroke-width="1"/>
<text x="39.6" y="346.95" font-size="6.1" text-anchor="end" fill="#231f20">0.01</text>
<line x1="56.1" y1="345.15" x2="56.1" y2="347.45" stroke="#231f20" stroke-width="1"/>
<text transform="translate(58.6,353.65) rotate(-45)" font-size="6.0" text-anchor="end" fill="#231f20">NDMM</text>
<line x1="72" y1="345.15" x2="72" y2="347.45" stroke="#231f20" stroke-width="1"/>
<text transform="translate(74.5,353.65) rotate(-45)" font-size="6.0" text-anchor="end" fill="#231f20">RRMM - DARA-<tspan font-size="5.0">naive</tspan></text>
<line x1="88" y1="345.15" x2="88" y2="347.45" stroke="#231f20" stroke-width="1"/>
<text transform="translate(90.5,353.65) rotate(-45)" font-size="6.0" text-anchor="end" fill="#231f20">RRMM - DARA</text>
<line x1="103.8" y1="345.15" x2="103.8" y2="347.45" stroke="#231f20" stroke-width="1"/>
<text transform="translate(106.3,353.65) rotate(-45)" font-size="6.0" text-anchor="end" fill="#231f20">RRMM - TEC</text>
<path d="M56.1,255.15 V250.95 H103.8 V255.15" fill="none" stroke="#231f20" stroke-width="1.0"/>
<text x="79.95" y="250.65" font-size="5.8" text-anchor="middle" fill="#231f20">***</text>
<path d="M72,266.85 V262.65 H103.8 V266.85" fill="none" stroke="#231f20" stroke-width="1.0"/>
<text x="87.9" y="261.25" font-size="6.2" text-anchor="middle" fill="#231f20">ns</text>
<path d="M88,278.65 V274.45 H103.8 V278.65" fill="none" stroke="#231f20" stroke-width="1.0"/>
<text x="95.9" y="274.15" font-size="5.8" text-anchor="middle" fill="#231f20">***</text>
<line x1="56.1" y1="282.75" x2="56.1" y2="299.15" stroke="#c93a4b" stroke-width="1"/>
<line x1="54.5" y1="282.75" x2="57.7" y2="282.75" stroke="#c93a4b" stroke-width="1"/>
<path d="M56.6,299.15 L57.85,300.45 L57.55,301.95 L57.64,302.3 L57.79,302.64 L57.98,302.96 L58.2,303.27 L58.46,303.58 L58.74,303.88 L59.03,304.19 L59.32,304.49 L59.61,304.81 L59.89,305.13 L60.15,305.47 L60.38,305.82 L60.57,306.19 L60.72,306.58 L60.82,307 L60.85,307.45 L60.85,334.55 L51.35,334.55 L51.35,307.45 L51.38,307 L51.48,306.58 L51.63,306.19 L51.82,305.82 L52.05,305.47 L52.31,305.13 L52.59,304.81 L52.88,304.49 L53.17,304.19 L53.46,303.88 L53.74,303.58 L54,303.27 L54.22,302.96 L54.41,302.64 L54.56,302.3 L54.65,301.95 L54.35,300.45 L55.6,299.15 Z" fill="#f7d0d3" stroke="#c93a4b" stroke-width="1.05" stroke-linejoin="round"/>
<line x1="51.75" y1="313.45" x2="60.45" y2="313.45" stroke="#c93a4b" stroke-width="0.7" stroke-dasharray="1 0.7"/>
<circle cx="57.88" cy="317.34" r="0.85" fill="#a82e3e" fill-opacity="0.9"/>
<circle cx="53.91" cy="316.58" r="0.85" fill="#a82e3e" fill-opacity="0.9"/>
<circle cx="55.31" cy="315.08" r="0.85" fill="#a82e3e" fill-opacity="0.9"/>
<circle cx="54.06" cy="307.99" r="0.85" fill="#a82e3e" fill-opacity="0.9"/>
<circle cx="57.51" cy="324.46" r="0.85" fill="#a82e3e" fill-opacity="0.9"/>
<circle cx="54.05" cy="320.11" r="0.85" fill="#a82e3e" fill-opacity="0.9"/>
<circle cx="55.04" cy="327.73" r="0.85" fill="#a82e3e" fill-opacity="0.9"/>
<circle cx="54.12" cy="323.55" r="0.85" fill="#a82e3e" fill-opacity="0.9"/>
<circle cx="56.94" cy="315.82" r="0.85" fill="#a82e3e" fill-opacity="0.9"/>
<circle cx="56.6" cy="311.17" r="0.85" fill="#a82e3e" fill-opacity="0.9"/>
<circle cx="54.65" cy="311.71" r="0.85" fill="#a82e3e" fill-opacity="0.9"/>
<circle cx="55.58" cy="303.34" r="0.85" fill="#a82e3e" fill-opacity="0.9"/>
<circle cx="56" cy="323.75" r="0.85" fill="#a82e3e" fill-opacity="0.9"/>
<circle cx="54.55" cy="332.99" r="0.85" fill="#a82e3e" fill-opacity="0.9"/>
<circle cx="57.48" cy="332.82" r="0.85" fill="#a82e3e" fill-opacity="0.9"/>
<circle cx="56.94" cy="310.65" r="0.85" fill="#a82e3e" fill-opacity="0.9"/>
<circle cx="54.23" cy="309.26" r="0.85" fill="#a82e3e" fill-opacity="0.9"/>
<circle cx="58.44" cy="315.59" r="0.85" fill="#a82e3e" fill-opacity="0.9"/>
<circle cx="54.39" cy="325.31" r="0.85" fill="#a82e3e" fill-opacity="0.9"/>
<circle cx="54.38" cy="315.75" r="0.85" fill="#a82e3e" fill-opacity="0.9"/>
<circle cx="52.65" cy="333.65" r="0.85" fill="#a82e3e" fill-opacity="0.9"/>
<circle cx="54.95" cy="333.65" r="0.85" fill="#a82e3e" fill-opacity="0.9"/>
<circle cx="57.25" cy="333.65" r="0.85" fill="#a82e3e" fill-opacity="0.9"/>
<circle cx="59.55" cy="333.65" r="0.85" fill="#a82e3e" fill-opacity="0.9"/>
<circle cx="56.1" cy="286.95" r="0.75" fill="#c93a4b"/>
<line x1="72" y1="282.75" x2="72" y2="299.35" stroke="#3a6c9b" stroke-width="1"/>
<circle cx="72" cy="283.15" r="0.9" fill="#3a6c9b"/>
<path d="M72.5,299.35 L73.19,300.5 L73.83,301.59 L74.4,302.63 L74.92,303.61 L75.37,304.54 L75.76,305.41 L76.09,306.22 L76.37,306.98 L76.58,307.68 L76.73,308.33 L76.82,308.92 L76.85,309.45 L76.85,334.55 L67.15,334.55 L67.15,309.45 L67.18,308.92 L67.27,308.33 L67.42,307.68 L67.63,306.98 L67.91,306.22 L68.24,305.41 L68.63,304.54 L69.08,303.61 L69.6,302.63 L70.17,301.59 L70.81,300.5 L71.5,299.35 Z" fill="#dcecf9" stroke="#3a6c9b" stroke-width="1.05" stroke-linejoin="round"/>
<line x1="67.55" y1="325.05" x2="76.45" y2="325.05" stroke="#3a6c9b" stroke-width="0.7" stroke-dasharray="1 0.7"/>
<circle cx="71.3" cy="307.2" r="0.85" fill="#2f5f8a" fill-opacity="0.9"/>
<circle cx="70.93" cy="330.07" r="0.85" fill="#2f5f8a" fill-opacity="0.9"/>
<circle cx="73.84" cy="324.14" r="0.85" fill="#2f5f8a" fill-opacity="0.9"/>
<circle cx="72.38" cy="318.34" r="0.85" fill="#2f5f8a" fill-opacity="0.9"/>
<circle cx="71.8" cy="321.03" r="0.85" fill="#2f5f8a" fill-opacity="0.9"/>
<circle cx="69.89" cy="323.03" r="0.85" fill="#2f5f8a" fill-opacity="0.9"/>
<circle cx="70.98" cy="311.65" r="0.85" fill="#2f5f8a" fill-opacity="0.9"/>
<circle cx="73.28" cy="317.88" r="0.85" fill="#2f5f8a" fill-opacity="0.9"/>
<circle cx="68.45" cy="333.65" r="0.85" fill="#2f5f8a" fill-opacity="0.9"/>
<circle cx="72" cy="333.65" r="0.85" fill="#2f5f8a" fill-opacity="0.9"/>
<circle cx="75.55" cy="333.65" r="0.85" fill="#2f5f8a" fill-opacity="0.9"/>
<line x1="88" y1="285.85" x2="88" y2="293.45" stroke="#e6a52a" stroke-width="1"/>
<circle cx="88" cy="286.25" r="0.9" fill="#e6a52a"/>
<path d="M88.5,293.45 L89.95,295.95 L89.55,297.95 L89.64,298.56 L89.77,299.14 L89.95,299.7 L90.17,300.24 L90.41,300.77 L90.67,301.29 L90.94,301.81 L91.22,302.34 L91.49,302.88 L91.75,303.44 L91.99,304.02 L92.21,304.63 L92.39,305.27 L92.53,305.95 L92.62,306.68 L92.65,307.45 L92.65,334.55 L83.35,334.55 L83.35,307.45 L83.38,306.68 L83.47,305.95 L83.61,305.27 L83.79,304.63 L84.01,304.02 L84.25,303.44 L84.51,302.88 L84.78,302.34 L85.06,301.81 L85.33,301.29 L85.59,300.77 L85.83,300.24 L86.05,299.7 L86.23,299.14 L86.36,298.56 L86.45,297.95 L86.05,295.95 L87.5,293.45 Z" fill="#fcebc3" stroke="#e6a52a" stroke-width="1.05" stroke-linejoin="round"/>
<circle cx="89.03" cy="322.42" r="0.85" fill="#d4981c" fill-opacity="0.9"/>
<circle cx="87.44" cy="326.37" r="0.85" fill="#d4981c" fill-opacity="0.9"/>
<circle cx="87.84" cy="313.13" r="0.85" fill="#d4981c" fill-opacity="0.9"/>
<circle cx="86.83" cy="310.14" r="0.85" fill="#d4981c" fill-opacity="0.9"/>
<circle cx="87.24" cy="313.86" r="0.85" fill="#d4981c" fill-opacity="0.9"/>
<circle cx="89.95" cy="332.07" r="0.85" fill="#d4981c" fill-opacity="0.9"/>
<circle cx="89.95" cy="323.92" r="0.85" fill="#d4981c" fill-opacity="0.9"/>
<circle cx="86.35" cy="331.22" r="0.85" fill="#d4981c" fill-opacity="0.9"/>
<circle cx="87.31" cy="320.43" r="0.85" fill="#d4981c" fill-opacity="0.9"/>
<circle cx="86.46" cy="323.61" r="0.85" fill="#d4981c" fill-opacity="0.9"/>
<circle cx="87.09" cy="311" r="0.85" fill="#d4981c" fill-opacity="0.9"/>
<circle cx="90.04" cy="306.01" r="0.85" fill="#d4981c" fill-opacity="0.9"/>
<circle cx="88.98" cy="317.94" r="0.85" fill="#d4981c" fill-opacity="0.9"/>
<circle cx="86.98" cy="314.29" r="0.85" fill="#d4981c" fill-opacity="0.9"/>
<circle cx="87.25" cy="327.83" r="0.85" fill="#d4981c" fill-opacity="0.9"/>
<circle cx="84.65" cy="333.65" r="0.85" fill="#d4981c" fill-opacity="0.9"/>
<circle cx="88" cy="333.65" r="0.85" fill="#d4981c" fill-opacity="0.9"/>
<circle cx="91.35" cy="333.65" r="0.85" fill="#d4981c" fill-opacity="0.9"/>
<line x1="103.8" y1="314.55" x2="103.8" y2="321.45" stroke="#14684f" stroke-width="1"/>
<circle cx="103.8" cy="314.95" r="0.9" fill="#14684f"/>
<path d="M104.3,321.45 L104.54,322.9 L104.81,324.27 L105.1,325.58 L105.41,326.81 L105.75,327.98 L106.12,329.07 L106.51,330.09 L106.93,331.05 L107.37,331.93 L107.84,332.74 L108.33,333.48 L108.85,334.15 L108.85,334.55 L98.75,334.55 L98.75,334.15 L99.27,333.48 L99.76,332.74 L100.23,331.93 L100.67,331.05 L101.09,330.09 L101.48,329.07 L101.85,327.98 L102.19,326.81 L102.5,325.58 L102.79,324.27 L103.06,322.9 L103.3,321.45 Z" fill="#a3d6c3" stroke="#14684f" stroke-width="1.05" stroke-linejoin="round"/>
<circle cx="103.01" cy="332.14" r="0.85" fill="#0f5040" fill-opacity="0.9"/>
<circle cx="104.24" cy="333.3" r="0.85" fill="#0f5040" fill-opacity="0.9"/>
<circle cx="100.13" cy="333.65" r="0.85" fill="#0f5040" fill-opacity="0.9"/>
<circle cx="101.96" cy="333.65" r="0.85" fill="#0f5040" fill-opacity="0.9"/>
<circle cx="103.8" cy="333.65" r="0.85" fill="#0f5040" fill-opacity="0.9"/>
<circle cx="105.64" cy="333.65" r="0.85" fill="#0f5040" fill-opacity="0.9"/>
<circle cx="107.47" cy="333.65" r="0.85" fill="#0f5040" fill-opacity="0.9"/>
<text x="215.1" y="227.45" font-style="italic" font-size="7.95" text-anchor="middle" fill="#231f20">S.pneumoniae</text>
<text x="214.8" y="237.35" font-size="7.95" text-anchor="middle" fill="#231f20">serotype 15B</text>
<text transform="translate(147.3,308.95) rotate(-90)" font-style="italic" font-size="7.0" text-anchor="middle" fill="#231f20" textLength="35.2" lengthAdjust="spacingAndGlyphs">S.pneumoniae</text>
<text transform="translate(156.3,308.95) rotate(-90)" font-size="7.3" text-anchor="middle" fill="#231f20" textLength="84.8" lengthAdjust="spacingAndGlyphs">maximum antibody titer (µg/mL)</text>
<path d="M178.8,272.95 V345.15 H250.5" fill="none" stroke="#231f20" stroke-width="1.2"/>
<line x1="176.4" y1="275.95" x2="178.8" y2="275.95" stroke="#231f20" stroke-width="1"/>
<text x="173.1" y="278.15" font-size="6.1" text-anchor="end" fill="#231f20">100</text>
<line x1="176.4" y1="293.15" x2="178.8" y2="293.15" stroke="#231f20" stroke-width="1"/>
<text x="173.1" y="295.35" font-size="6.1" text-anchor="end" fill="#231f20">10</text>
<line x1="176.4" y1="310.35" x2="178.8" y2="310.35" stroke="#231f20" stroke-width="1"/>
<text x="173.1" y="312.55" font-size="6.1" text-anchor="end" fill="#231f20">1</text>
<line x1="176.4" y1="327.55" x2="178.8" y2="327.55" stroke="#231f20" stroke-width="1"/>
<text x="173.1" y="329.75" font-size="6.1" text-anchor="end" fill="#231f20">0.1</text>
<line x1="176.4" y1="344.75" x2="178.8" y2="344.75" stroke="#231f20" stroke-width="1"/>
<text x="173.1" y="346.95" font-size="6.1" text-anchor="end" fill="#231f20">0.01</text>
<line x1="189.6" y1="345.15" x2="189.6" y2="347.45" stroke="#231f20" stroke-width="1"/>
<text transform="translate(192.1,353.65) rotate(-45)" font-size="6.0" text-anchor="end" fill="#231f20">NDMM</text>
<line x1="205.5" y1="345.15" x2="205.5" y2="347.45" stroke="#231f20" stroke-width="1"/>
<text transform="translate(208,353.65) rotate(-45)" font-size="6.0" text-anchor="end" fill="#231f20">RRMM - DARA-<tspan font-size="5.0">naive</tspan></text>
<line x1="221.5" y1="345.15" x2="221.5" y2="347.45" stroke="#231f20" stroke-width="1"/>
<text transform="translate(224,353.65) rotate(-45)" font-size="6.0" text-anchor="end" fill="#231f20">RRMM - DARA</text>
<line x1="237.3" y1="345.15" x2="237.3" y2="347.45" stroke="#231f20" stroke-width="1"/>
<text transform="translate(239.8,353.65) rotate(-45)" font-size="6.0" text-anchor="end" fill="#231f20">RRMM - TEC</text>
<path d="M189.6,255.15 V250.95 H237.3 V255.15" fill="none" stroke="#231f20" stroke-width="1.0"/>
<text x="213.45" y="250.65" font-size="5.8" text-anchor="middle" fill="#231f20">*</text>
<path d="M205.5,266.85 V262.65 H237.3 V266.85" fill="none" stroke="#231f20" stroke-width="1.0"/>
<text x="221.4" y="262.35" font-size="5.8" text-anchor="middle" fill="#231f20">*</text>
<path d="M221.5,278.65 V274.45 H237.3 V278.65" fill="none" stroke="#231f20" stroke-width="1.0"/>
<text x="229.4" y="274.15" font-size="5.8" text-anchor="middle" fill="#231f20">**</text>
<line x1="189.6" y1="282.65" x2="189.6" y2="307.45" stroke="#c93a4b" stroke-width="1"/>
<line x1="188" y1="282.65" x2="191.2" y2="282.65" stroke="#c93a4b" stroke-width="1"/>
<path d="M190.1,307.45 L190.22,307.93 L190.42,308.39 L190.68,308.83 L190.98,309.25 L191.33,309.67 L191.7,310.09 L192.09,310.5 L192.49,310.92 L192.88,311.35 L193.26,311.79 L193.61,312.24 L193.92,312.72 L194.18,313.23 L194.38,313.77 L194.5,314.34 L194.55,314.95 L194.55,334.55 L184.65,334.55 L184.65,314.95 L184.7,314.34 L184.82,313.77 L185.02,313.23 L185.28,312.72 L185.59,312.24 L185.94,311.79 L186.32,311.35 L186.71,310.92 L187.11,310.5 L187.5,310.09 L187.87,309.67 L188.22,309.25 L188.52,308.83 L188.78,308.39 L188.98,307.93 L189.1,307.45 Z" fill="#f7d0d3" stroke="#c93a4b" stroke-width="1.05" stroke-linejoin="round"/>
<line x1="185.05" y1="327.45" x2="194.15" y2="327.45" stroke="#c93a4b" stroke-width="0.7" stroke-dasharray="1 0.7"/>
<circle cx="187.95" cy="320.07" r="0.85" fill="#a82e3e" fill-opacity="0.9"/>
<circle cx="189.86" cy="318.68" r="0.85" fill="#a82e3e" fill-opacity="0.9"/>
<circle cx="188" cy="327.03" r="0.85" fill="#a82e3e" fill-opacity="0.9"/>
<circle cx="188.7" cy="331.32" r="0.85" fill="#a82e3e" fill-opacity="0.9"/>
<circle cx="191.75" cy="327.88" r="0.85" fill="#a82e3e" fill-opacity="0.9"/>
<circle cx="191.35" cy="314.65" r="0.85" fill="#a82e3e" fill-opacity="0.9"/>
<circle cx="189.39" cy="320.07" r="0.85" fill="#a82e3e" fill-opacity="0.9"/>
<circle cx="189.2" cy="314.57" r="0.85" fill="#a82e3e" fill-opacity="0.9"/>
<circle cx="188.95" cy="320.21" r="0.85" fill="#a82e3e" fill-opacity="0.9"/>
<circle cx="187.98" cy="320.01" r="0.85" fill="#a82e3e" fill-opacity="0.9"/>
<circle cx="189.77" cy="318.15" r="0.85" fill="#a82e3e" fill-opacity="0.9"/>
<circle cx="190.8" cy="321.45" r="0.85" fill="#a82e3e" fill-opacity="0.9"/>
<circle cx="188.74" cy="317.5" r="0.85" fill="#a82e3e" fill-opacity="0.9"/>
<circle cx="189.68" cy="325.8" r="0.85" fill="#a82e3e" fill-opacity="0.9"/>
<circle cx="187.33" cy="329.87" r="0.85" fill="#a82e3e" fill-opacity="0.9"/>
<circle cx="188.44" cy="324.2" r="0.85" fill="#a82e3e" fill-opacity="0.9"/>
<circle cx="188.54" cy="311.55" r="0.85" fill="#a82e3e" fill-opacity="0.9"/>
<circle cx="188.97" cy="325.49" r="0.85" fill="#a82e3e" fill-opacity="0.9"/>
<circle cx="188.22" cy="315.01" r="0.85" fill="#a82e3e" fill-opacity="0.9"/>
<circle cx="187.83" cy="330.18" r="0.85" fill="#a82e3e" fill-opacity="0.9"/>
<circle cx="185.95" cy="333.65" r="0.85" fill="#a82e3e" fill-opacity="0.9"/>
<circle cx="188.38" cy="333.65" r="0.85" fill="#a82e3e" fill-opacity="0.9"/>
<circle cx="190.82" cy="333.65" r="0.85" fill="#a82e3e" fill-opacity="0.9"/>
<circle cx="193.25" cy="333.65" r="0.85" fill="#a82e3e" fill-opacity="0.9"/>
<circle cx="189.6" cy="304.65" r="0.75" fill="#c93a4b"/>
<circle cx="189.6" cy="307.15" r="0.75" fill="#c93a4b"/>
<line x1="205.5" y1="282.65" x2="205.5" y2="294.25" stroke="#3a6c9b" stroke-width="1"/>
<circle cx="205.5" cy="283.05" r="0.9" fill="#3a6c9b"/>
<path d="M206,294.25 L206.71,295.25 L207.36,296.21 L207.95,297.15 L208.47,298.07 L208.94,298.95 L209.34,299.81 L209.68,300.63 L209.96,301.43 L210.17,302.2 L210.33,302.95 L210.42,303.66 L210.45,304.35 L210.45,334.55 L200.55,334.55 L200.55,304.35 L200.58,303.66 L200.67,302.95 L200.83,302.2 L201.04,301.43 L201.32,300.63 L201.66,299.81 L202.06,298.95 L202.53,298.07 L203.05,297.15 L203.64,296.21 L204.29,295.25 L205,294.25 Z" fill="#dcecf9" stroke="#3a6c9b" stroke-width="1.05" stroke-linejoin="round"/>
<line x1="200.95" y1="314.45" x2="210.05" y2="314.45" stroke="#3a6c9b" stroke-width="0.7" stroke-dasharray="1 0.7"/>
<circle cx="205.66" cy="297.29" r="0.85" fill="#2f5f8a" fill-opacity="0.9"/>
<circle cx="206.03" cy="307.54" r="0.85" fill="#2f5f8a" fill-opacity="0.9"/>
<circle cx="203.66" cy="321.04" r="0.85" fill="#2f5f8a" fill-opacity="0.9"/>
<circle cx="204.01" cy="303.42" r="0.85" fill="#2f5f8a" fill-opacity="0.9"/>
<circle cx="203.66" cy="315.8" r="0.85" fill="#2f5f8a" fill-opacity="0.9"/>
<circle cx="203" cy="311.55" r="0.85" fill="#2f5f8a" fill-opacity="0.9"/>
<circle cx="204.65" cy="303.66" r="0.85" fill="#2f5f8a" fill-opacity="0.9"/>
<circle cx="206.6" cy="324.57" r="0.85" fill="#2f5f8a" fill-opacity="0.9"/>
<circle cx="201.85" cy="333.65" r="0.85" fill="#2f5f8a" fill-opacity="0.9"/>
<circle cx="205.5" cy="333.65" r="0.85" fill="#2f5f8a" fill-opacity="0.9"/>
<circle cx="209.15" cy="333.65" r="0.85" fill="#2f5f8a" fill-opacity="0.9"/>
<circle cx="205.5" cy="292.05" r="0.75" fill="#3a6c9b"/>
<line x1="221.5" y1="287.75" x2="221.5" y2="298.25" stroke="#e6a52a" stroke-width="1"/>
<circle cx="221.5" cy="288.15" r="0.9" fill="#e6a52a"/>
<path d="M222,298.25 L222.71,299.84 L223.36,301.34 L223.95,302.75 L224.47,304.07 L224.94,305.3 L225.34,306.44 L225.68,307.48 L225.96,308.44 L226.17,309.3 L226.33,310.08 L226.42,310.76 L226.45,311.35 L226.45,334.55 L216.55,334.55 L216.55,311.35 L216.58,310.76 L216.67,310.08 L216.83,309.3 L217.04,308.44 L217.32,307.48 L217.66,306.44 L218.06,305.3 L218.53,304.07 L219.05,302.75 L219.64,301.34 L220.29,299.84 L221,298.25 Z" fill="#fcebc3" stroke="#e6a52a" stroke-width="1.05" stroke-linejoin="round"/>
<line x1="216.95" y1="321.95" x2="226.05" y2="321.95" stroke="#e6a52a" stroke-width="0.7" stroke-dasharray="1 0.7"/>
<circle cx="219.23" cy="315.68" r="0.85" fill="#d4981c" fill-opacity="0.9"/>
<circle cx="223.85" cy="314.76" r="0.85" fill="#d4981c" fill-opacity="0.9"/>
<circle cx="223.19" cy="314.35" r="0.85" fill="#d4981c" fill-opacity="0.9"/>
<circle cx="221.03" cy="306.4" r="0.85" fill="#d4981c" fill-opacity="0.9"/>
<circle cx="222.91" cy="305.12" r="0.85" fill="#d4981c" fill-opacity="0.9"/>
<circle cx="223.73" cy="331.42" r="0.85" fill="#d4981c" fill-opacity="0.9"/>
<circle cx="220.95" cy="316.94" r="0.85" fill="#d4981c" fill-opacity="0.9"/>
<circle cx="222.03" cy="315.01" r="0.85" fill="#d4981c" fill-opacity="0.9"/>
<circle cx="223.34" cy="314.07" r="0.85" fill="#d4981c" fill-opacity="0.9"/>
<circle cx="219.46" cy="326.55" r="0.85" fill="#d4981c" fill-opacity="0.9"/>
<circle cx="221.82" cy="317.09" r="0.85" fill="#d4981c" fill-opacity="0.9"/>
<circle cx="223.16" cy="313.4" r="0.85" fill="#d4981c" fill-opacity="0.9"/>
<circle cx="219.14" cy="321.56" r="0.85" fill="#d4981c" fill-opacity="0.9"/>
<circle cx="223.72" cy="316.82" r="0.85" fill="#d4981c" fill-opacity="0.9"/>
<circle cx="221.88" cy="328.11" r="0.85" fill="#d4981c" fill-opacity="0.9"/>
<circle cx="217.85" cy="333.65" r="0.85" fill="#d4981c" fill-opacity="0.9"/>
<circle cx="221.5" cy="333.65" r="0.85" fill="#d4981c" fill-opacity="0.9"/>
<circle cx="225.15" cy="333.65" r="0.85" fill="#d4981c" fill-opacity="0.9"/>
<line x1="237.3" y1="305.35" x2="237.3" y2="329.95" stroke="#14684f" stroke-width="1"/>
<circle cx="237.3" cy="305.75" r="0.9" fill="#14684f"/>
<path d="M237.8,329.95 L242.45,334.35 L242.45,334.55 L232.15,334.55 L232.15,334.35 L236.8,329.95 Z" fill="#a3d6c3" stroke="#14684f" stroke-width="1.05" stroke-linejoin="round"/>
<circle cx="237.03" cy="332.87" r="0.85" fill="#0f5040" fill-opacity="0.9"/>
<circle cx="236.5" cy="333.12" r="0.85" fill="#0f5040" fill-opacity="0.9"/>
<circle cx="233.77" cy="333.65" r="0.85" fill="#0f5040" fill-opacity="0.9"/>
<circle cx="235.53" cy="333.65" r="0.85" fill="#0f5040" fill-opacity="0.9"/>
<circle cx="237.3" cy="333.65" r="0.85" fill="#0f5040" fill-opacity="0.9"/>
<circle cx="239.07" cy="333.65" r="0.85" fill="#0f5040" fill-opacity="0.9"/>
<circle cx="240.83" cy="333.65" r="0.85" fill="#0f5040" fill-opacity="0.9"/>
<circle cx="237.3" cy="315.55" r="0.75" fill="#14684f"/>
<circle cx="237.3" cy="319.95" r="0.75" fill="#14684f"/>
<text x="346.5" y="227.45" font-style="italic" font-size="7.95" text-anchor="middle" fill="#231f20">S.pneumoniae</text>
<text x="346.2" y="237.35" font-size="7.95" text-anchor="middle" fill="#231f20">serotype 19F</text>
<text transform="translate(278.7,308.95) rotate(-90)" font-style="italic" font-size="7.0" text-anchor="middle" fill="#231f20" textLength="35.2" lengthAdjust="spacingAndGlyphs">S.pneumoniae</text>
<text transform="translate(287.7,308.95) rotate(-90)" font-size="7.3" text-anchor="middle" fill="#231f20" textLength="84.8" lengthAdjust="spacingAndGlyphs">maximum antibody titer (µg/mL)</text>
<path d="M310.2,272.95 V345.15 H381.9" fill="none" stroke="#231f20" stroke-width="1.2"/>
<line x1="307.8" y1="275.95" x2="310.2" y2="275.95" stroke="#231f20" stroke-width="1"/>
<text x="304.5" y="278.15" font-size="6.1" text-anchor="end" fill="#231f20">100</text>
<line x1="307.8" y1="293.15" x2="310.2" y2="293.15" stroke="#231f20" stroke-width="1"/>
<text x="304.5" y="295.35" font-size="6.1" text-anchor="end" fill="#231f20">10</text>
<line x1="307.8" y1="310.35" x2="310.2" y2="310.35" stroke="#231f20" stroke-width="1"/>
<text x="304.5" y="312.55" font-size="6.1" text-anchor="end" fill="#231f20">1</text>
<line x1="307.8" y1="327.55" x2="310.2" y2="327.55" stroke="#231f20" stroke-width="1"/>
<text x="304.5" y="329.75" font-size="6.1" text-anchor="end" fill="#231f20">0.1</text>
<line x1="307.8" y1="344.75" x2="310.2" y2="344.75" stroke="#231f20" stroke-width="1"/>
<text x="304.5" y="346.95" font-size="6.1" text-anchor="end" fill="#231f20">0.01</text>
<line x1="321" y1="345.15" x2="321" y2="347.45" stroke="#231f20" stroke-width="1"/>
<text transform="translate(323.5,353.65) rotate(-45)" font-size="6.0" text-anchor="end" fill="#231f20">NDMM</text>
<line x1="336.9" y1="345.15" x2="336.9" y2="347.45" stroke="#231f20" stroke-width="1"/>
<text transform="translate(339.4,353.65) rotate(-45)" font-size="6.0" text-anchor="end" fill="#231f20">RRMM - DARA-<tspan font-size="5.0">naive</tspan></text>
<line x1="352.9" y1="345.15" x2="352.9" y2="347.45" stroke="#231f20" stroke-width="1"/>
<text transform="translate(355.4,353.65) rotate(-45)" font-size="6.0" text-anchor="end" fill="#231f20">RRMM - DARA</text>
<line x1="368.7" y1="345.15" x2="368.7" y2="347.45" stroke="#231f20" stroke-width="1"/>
<text transform="translate(371.2,353.65) rotate(-45)" font-size="6.0" text-anchor="end" fill="#231f20">RRMM - TEC</text>
<path d="M321,255.15 V250.95 H368.7 V255.15" fill="none" stroke="#231f20" stroke-width="1.0"/>
<text x="344.85" y="250.65" font-size="5.8" text-anchor="middle" fill="#231f20">****</text>
<path d="M336.9,266.85 V262.65 H368.7 V266.85" fill="none" stroke="#231f20" stroke-width="1.0"/>
<text x="352.8" y="262.35" font-size="5.8" text-anchor="middle" fill="#231f20">**</text>
<path d="M352.9,278.65 V274.45 H368.7 V278.65" fill="none" stroke="#231f20" stroke-width="1.0"/>
<text x="360.8" y="274.15" font-size="5.8" text-anchor="middle" fill="#231f20">***</text>
<line x1="321" y1="282.75" x2="321" y2="301.25" stroke="#c93a4b" stroke-width="1"/>
<line x1="319.4" y1="282.75" x2="322.6" y2="282.75" stroke="#c93a4b" stroke-width="1"/>
<path d="M321.5,301.25 L321.62,301.84 L321.8,302.4 L322.05,302.94 L322.34,303.46 L322.67,303.98 L323.03,304.48 L323.41,304.99 L323.78,305.5 L324.16,306.03 L324.52,306.57 L324.85,307.13 L325.15,307.72 L325.39,308.34 L325.58,309 L325.71,309.7 L325.75,310.45 L325.75,334.55 L316.25,334.55 L316.25,310.45 L316.29,309.7 L316.42,309 L316.61,308.34 L316.85,307.72 L317.15,307.13 L317.48,306.57 L317.84,306.03 L318.22,305.5 L318.59,304.99 L318.97,304.48 L319.33,303.98 L319.66,303.46 L319.95,302.94 L320.2,302.4 L320.38,301.84 L320.5,301.25 Z" fill="#f7d0d3" stroke="#c93a4b" stroke-width="1.05" stroke-linejoin="round"/>
<line x1="316.65" y1="320.55" x2="325.35" y2="320.55" stroke="#c93a4b" stroke-width="0.7" stroke-dasharray="1 0.7"/>
<circle cx="321.33" cy="323.43" r="0.85" fill="#a82e3e" fill-opacity="0.9"/>
<circle cx="320.53" cy="304.43" r="0.85" fill="#a82e3e" fill-opacity="0.9"/>
<circle cx="319.92" cy="307.96" r="0.85" fill="#a82e3e" fill-opacity="0.9"/>
<circle cx="322.06" cy="318.83" r="0.85" fill="#a82e3e" fill-opacity="0.9"/>
<circle cx="321.39" cy="312.21" r="0.85" fill="#a82e3e" fill-opacity="0.9"/>
<circle cx="321.39" cy="321.96" r="0.85" fill="#a82e3e" fill-opacity="0.9"/>
<circle cx="319.34" cy="317.46" r="0.85" fill="#a82e3e" fill-opacity="0.9"/>
<circle cx="322.59" cy="309.61" r="0.85" fill="#a82e3e" fill-opacity="0.9"/>
<circle cx="319.15" cy="330.54" r="0.85" fill="#a82e3e" fill-opacity="0.9"/>
<circle cx="320.8" cy="313.31" r="0.85" fill="#a82e3e" fill-opacity="0.9"/>
<circle cx="321.37" cy="315.29" r="0.85" fill="#a82e3e" fill-opacity="0.9"/>
<circle cx="322.17" cy="311.05" r="0.85" fill="#a82e3e" fill-opacity="0.9"/>
<circle cx="318.63" cy="327.71" r="0.85" fill="#a82e3e" fill-opacity="0.9"/>
<circle cx="320.05" cy="307.62" r="0.85" fill="#a82e3e" fill-opacity="0.9"/>
<circle cx="319.66" cy="327.34" r="0.85" fill="#a82e3e" fill-opacity="0.9"/>
<circle cx="319.77" cy="310.15" r="0.85" fill="#a82e3e" fill-opacity="0.9"/>
<circle cx="320.77" cy="308.95" r="0.85" fill="#a82e3e" fill-opacity="0.9"/>
<circle cx="319.88" cy="320.26" r="0.85" fill="#a82e3e" fill-opacity="0.9"/>
<circle cx="320.95" cy="313.04" r="0.85" fill="#a82e3e" fill-opacity="0.9"/>
<circle cx="319.23" cy="325.63" r="0.85" fill="#a82e3e" fill-opacity="0.9"/>
<circle cx="317.55" cy="333.65" r="0.85" fill="#a82e3e" fill-opacity="0.9"/>
<circle cx="319.85" cy="333.65" r="0.85" fill="#a82e3e" fill-opacity="0.9"/>
<circle cx="322.15" cy="333.65" r="0.85" fill="#a82e3e" fill-opacity="0.9"/>
<circle cx="324.45" cy="333.65" r="0.85" fill="#a82e3e" fill-opacity="0.9"/>
<line x1="336.9" y1="291.35" x2="336.9" y2="302.25" stroke="#3a6c9b" stroke-width="1"/>
<circle cx="336.9" cy="291.75" r="0.9" fill="#3a6c9b"/>
<path d="M337.4,302.25 L337.45,302.52 L337.53,302.78 L337.64,303.02 L337.77,303.26 L337.91,303.49 L338.07,303.73 L338.23,303.96 L338.39,304.19 L338.56,304.43 L338.71,304.68 L338.86,304.93 L338.99,305.2 L339.1,305.49 L339.18,305.79 L339.23,306.11 L339.25,306.45 L339.25,308.95 L339.32,309.43 L339.42,309.89 L339.56,310.33 L339.73,310.75 L339.91,311.17 L340.11,311.59 L340.33,312 L340.54,312.42 L340.75,312.85 L340.95,313.29 L341.14,313.74 L341.31,314.22 L341.45,314.73 L341.56,315.27 L341.63,315.84 L341.65,316.45 L341.65,334.55 L332.15,334.55 L332.15,316.45 L332.17,315.84 L332.24,315.27 L332.35,314.73 L332.49,314.22 L332.66,313.74 L332.85,313.29 L333.05,312.85 L333.26,312.42 L333.47,312 L333.69,311.59 L333.89,311.17 L334.07,310.75 L334.24,310.33 L334.38,309.89 L334.48,309.43 L334.55,308.95 L334.55,306.45 L334.57,306.11 L334.62,305.79 L334.7,305.49 L334.81,305.2 L334.94,304.93 L335.09,304.68 L335.24,304.43 L335.41,304.19 L335.57,303.96 L335.73,303.73 L335.89,303.49 L336.03,303.26 L336.16,303.02 L336.27,302.78 L336.35,302.52 L336.4,302.25 Z" fill="#dcecf9" stroke="#3a6c9b" stroke-width="1.05" stroke-linejoin="round"/>
<line x1="332.55" y1="323.55" x2="341.25" y2="323.55" stroke="#3a6c9b" stroke-width="0.7" stroke-dasharray="1 0.7"/>
<circle cx="335.84" cy="322.66" r="0.85" fill="#2f5f8a" fill-opacity="0.9"/>
<circle cx="337.74" cy="322.91" r="0.85" fill="#2f5f8a" fill-opacity="0.9"/>
<circle cx="337.12" cy="316.85" r="0.85" fill="#2f5f8a" fill-opacity="0.9"/>
<circle cx="337.5" cy="310.1" r="0.85" fill="#2f5f8a" fill-opacity="0.9"/>
<circle cx="337.48" cy="325.85" r="0.85" fill="#2f5f8a" fill-opacity="0.9"/>
<circle cx="338.17" cy="316.31" r="0.85" fill="#2f5f8a" fill-opacity="0.9"/>
<circle cx="335.55" cy="320.08" r="0.85" fill="#2f5f8a" fill-opacity="0.9"/>
<circle cx="335.58" cy="332.92" r="0.85" fill="#2f5f8a" fill-opacity="0.9"/>
<circle cx="333.45" cy="333.65" r="0.85" fill="#2f5f8a" fill-opacity="0.9"/>
<circle cx="336.9" cy="333.65" r="0.85" fill="#2f5f8a" fill-opacity="0.9"/>
<circle cx="340.35" cy="333.65" r="0.85" fill="#2f5f8a" fill-opacity="0.9"/>
<line x1="352.9" y1="285.85" x2="352.9" y2="302.95" stroke="#e6a52a" stroke-width="1"/>
<circle cx="352.9" cy="286.25" r="0.9" fill="#e6a52a"/>
<path d="M353.4,302.95 L354.08,303.92 L354.7,304.84 L355.26,305.71 L355.76,306.54 L356.2,307.32 L356.59,308.05 L356.91,308.73 L357.18,309.37 L357.38,309.96 L357.53,310.51 L357.62,311 L357.65,311.45 L357.65,334.55 L348.15,334.55 L348.15,311.45 L348.18,311 L348.27,310.51 L348.42,309.96 L348.62,309.37 L348.89,308.73 L349.21,308.05 L349.6,307.32 L350.04,306.54 L350.54,305.71 L351.1,304.84 L351.72,303.92 L352.4,302.95 Z" fill="#fcebc3" stroke="#e6a52a" stroke-width="1.05" stroke-linejoin="round"/>
<line x1="348.55" y1="328.65" x2="357.25" y2="328.65" stroke="#e6a52a" stroke-width="0.7" stroke-dasharray="1 0.7"/>
<circle cx="352.18" cy="312.87" r="0.85" fill="#d4981c" fill-opacity="0.9"/>
<circle cx="353.75" cy="311.47" r="0.85" fill="#d4981c" fill-opacity="0.9"/>
<circle cx="355.07" cy="331.27" r="0.85" fill="#d4981c" fill-opacity="0.9"/>
<circle cx="352.27" cy="330.76" r="0.85" fill="#d4981c" fill-opacity="0.9"/>
<circle cx="353.62" cy="329.36" r="0.85" fill="#d4981c" fill-opacity="0.9"/>
<circle cx="351.35" cy="333.08" r="0.85" fill="#d4981c" fill-opacity="0.9"/>
<circle cx="352.66" cy="316.31" r="0.85" fill="#d4981c" fill-opacity="0.9"/>
<circle cx="354.71" cy="318.62" r="0.85" fill="#d4981c" fill-opacity="0.9"/>
<circle cx="351.28" cy="325.82" r="0.85" fill="#d4981c" fill-opacity="0.9"/>
<circle cx="350.89" cy="316.67" r="0.85" fill="#d4981c" fill-opacity="0.9"/>
<circle cx="355.17" cy="312.97" r="0.85" fill="#d4981c" fill-opacity="0.9"/>
<circle cx="352.38" cy="326.71" r="0.85" fill="#d4981c" fill-opacity="0.9"/>
<circle cx="353.49" cy="332.4" r="0.85" fill="#d4981c" fill-opacity="0.9"/>
<circle cx="351.18" cy="326.77" r="0.85" fill="#d4981c" fill-opacity="0.9"/>
<circle cx="353.85" cy="321.7" r="0.85" fill="#d4981c" fill-opacity="0.9"/>
<circle cx="349.45" cy="333.65" r="0.85" fill="#d4981c" fill-opacity="0.9"/>
<circle cx="352.9" cy="333.65" r="0.85" fill="#d4981c" fill-opacity="0.9"/>
<circle cx="356.35" cy="333.65" r="0.85" fill="#d4981c" fill-opacity="0.9"/>
<line x1="368.7" y1="321.55" x2="368.7" y2="329.15" stroke="#14684f" stroke-width="1"/>
<circle cx="368.7" cy="321.95" r="0.9" fill="#14684f"/>
<path d="M369.2,329.15 L373.75,334.35 L373.75,334.55 L363.65,334.55 L363.65,334.35 L368.2,329.15 Z" fill="#a3d6c3" stroke="#14684f" stroke-width="1.05" stroke-linejoin="round"/>
<circle cx="368.47" cy="331.73" r="0.85" fill="#0f5040" fill-opacity="0.9"/>
<circle cx="367.11" cy="332.71" r="0.85" fill="#0f5040" fill-opacity="0.9"/>
<circle cx="365.21" cy="333.65" r="0.85" fill="#0f5040" fill-opacity="0.9"/>
<circle cx="366.96" cy="333.65" r="0.85" fill="#0f5040" fill-opacity="0.9"/>
<circle cx="368.7" cy="333.65" r="0.85" fill="#0f5040" fill-opacity="0.9"/>
<circle cx="370.44" cy="333.65" r="0.85" fill="#0f5040" fill-opacity="0.9"/>
<circle cx="372.19" cy="333.65" r="0.85" fill="#0f5040" fill-opacity="0.9"/>
<text x="477.8" y="227.45" font-style="italic" font-size="7.95" text-anchor="middle" fill="#231f20">S.pneumoniae</text>
<text x="477.5" y="237.35" font-size="7.95" text-anchor="middle" fill="#231f20">serotype 20</text>
<text transform="translate(410,308.95) rotate(-90)" font-style="italic" font-size="7.0" text-anchor="middle" fill="#231f20" textLength="35.2" lengthAdjust="spacingAndGlyphs">S.pneumoniae</text>
<text transform="translate(419,308.95) rotate(-90)" font-size="7.3" text-anchor="middle" fill="#231f20" textLength="84.8" lengthAdjust="spacingAndGlyphs">maximum antibody titer (µg/mL)</text>
<path d="M441.5,272.95 V345.15 H513.2" fill="none" stroke="#231f20" stroke-width="1.2"/>
<line x1="439.1" y1="275.95" x2="441.5" y2="275.95" stroke="#231f20" stroke-width="1"/>
<text x="435.8" y="278.15" font-size="6.1" text-anchor="end" fill="#231f20">100</text>
<line x1="439.1" y1="293.15" x2="441.5" y2="293.15" stroke="#231f20" stroke-width="1"/>
<text x="435.8" y="295.35" font-size="6.1" text-anchor="end" fill="#231f20">10</text>
<line x1="439.1" y1="310.35" x2="441.5" y2="310.35" stroke="#231f20" stroke-width="1"/>
<text x="435.8" y="312.55" font-size="6.1" text-anchor="end" fill="#231f20">1</text>
<line x1="439.1" y1="327.55" x2="441.5" y2="327.55" stroke="#231f20" stroke-width="1"/>
<text x="435.8" y="329.75" font-size="6.1" text-anchor="end" fill="#231f20">0.1</text>
<line x1="439.1" y1="344.75" x2="441.5" y2="344.75" stroke="#231f20" stroke-width="1"/>
<text x="435.8" y="346.95" font-size="6.1" text-anchor="end" fill="#231f20">0.01</text>
<line x1="452.3" y1="345.15" x2="452.3" y2="347.45" stroke="#231f20" stroke-width="1"/>
<text transform="translate(454.8,353.65) rotate(-45)" font-size="6.0" text-anchor="end" fill="#231f20">NDMM</text>
<line x1="468.2" y1="345.15" x2="468.2" y2="347.45" stroke="#231f20" stroke-width="1"/>
<text transform="translate(470.7,353.65) rotate(-45)" font-size="6.0" text-anchor="end" fill="#231f20">RRMM - DARA-<tspan font-size="5.0">naive</tspan></text>
<line x1="484.2" y1="345.15" x2="484.2" y2="347.45" stroke="#231f20" stroke-width="1"/>
<text transform="translate(486.7,353.65) rotate(-45)" font-size="6.0" text-anchor="end" fill="#231f20">RRMM - DARA</text>
<line x1="500" y1="345.15" x2="500" y2="347.45" stroke="#231f20" stroke-width="1"/>
<text transform="translate(502.5,353.65) rotate(-45)" font-size="6.0" text-anchor="end" fill="#231f20">RRMM - TEC</text>
<path d="M452.3,255.15 V250.95 H500 V255.15" fill="none" stroke="#231f20" stroke-width="1.0"/>
<text x="476.15" y="250.65" font-size="5.8" text-anchor="middle" fill="#231f20">*</text>
<path d="M468.2,266.85 V262.65 H500 V266.85" fill="none" stroke="#231f20" stroke-width="1.0"/>
<text x="484.1" y="262.35" font-size="5.8" text-anchor="middle" fill="#231f20">**</text>
<path d="M484.2,278.65 V274.45 H500 V278.65" fill="none" stroke="#231f20" stroke-width="1.0"/>
<text x="492.1" y="274.15" font-size="5.8" text-anchor="middle" fill="#231f20">***</text>
<line x1="452.3" y1="284.75" x2="452.3" y2="302.65" stroke="#c93a4b" stroke-width="1"/>
<circle cx="452.3" cy="285.15" r="0.9" fill="#c93a4b"/>
<path d="M452.8,302.65 L453.85,304.25 L453.85,307.25 L453.55,308.25 L453.65,308.92 L453.81,309.56 L454.02,310.18 L454.26,310.78 L454.54,311.36 L454.85,311.94 L455.16,312.52 L455.49,313.11 L455.8,313.7 L456.11,314.32 L456.39,314.96 L456.64,315.63 L456.85,316.34 L457.01,317.09 L457.11,317.89 L457.15,318.75 L457.15,334.55 L447.45,334.55 L447.45,318.75 L447.49,317.89 L447.59,317.09 L447.75,316.34 L447.96,315.63 L448.21,314.96 L448.49,314.32 L448.8,313.7 L449.12,313.11 L449.44,312.52 L449.75,311.94 L450.06,311.36 L450.34,310.78 L450.58,310.18 L450.79,309.56 L450.95,308.92 L451.05,308.25 L450.75,307.25 L450.75,304.25 L451.8,302.65 Z" fill="#f7d0d3" stroke="#c93a4b" stroke-width="1.05" stroke-linejoin="round"/>
<line x1="447.85" y1="325.25" x2="456.75" y2="325.25" stroke="#c93a4b" stroke-width="0.7" stroke-dasharray="1 0.7"/>
<circle cx="452.88" cy="316.65" r="0.85" fill="#a82e3e" fill-opacity="0.9"/>
<circle cx="450.81" cy="315.78" r="0.85" fill="#a82e3e" fill-opacity="0.9"/>
<circle cx="453.54" cy="314.08" r="0.85" fill="#a82e3e" fill-opacity="0.9"/>
<circle cx="452.54" cy="328.22" r="0.85" fill="#a82e3e" fill-opacity="0.9"/>
<circle cx="452.25" cy="311.48" r="0.85" fill="#a82e3e" fill-opacity="0.9"/>
<circle cx="453.44" cy="317.54" r="0.85" fill="#a82e3e" fill-opacity="0.9"/>
<circle cx="452.9" cy="321.23" r="0.85" fill="#a82e3e" fill-opacity="0.9"/>
<circle cx="451.43" cy="318.94" r="0.85" fill="#a82e3e" fill-opacity="0.9"/>
<circle cx="453.88" cy="322.76" r="0.85" fill="#a82e3e" fill-opacity="0.9"/>
<circle cx="452.42" cy="312.25" r="0.85" fill="#a82e3e" fill-opacity="0.9"/>
<circle cx="449.85" cy="329.16" r="0.85" fill="#a82e3e" fill-opacity="0.9"/>
<circle cx="452.42" cy="323.82" r="0.85" fill="#a82e3e" fill-opacity="0.9"/>
<circle cx="454.4" cy="328.2" r="0.85" fill="#a82e3e" fill-opacity="0.9"/>
<circle cx="454.74" cy="323.11" r="0.85" fill="#a82e3e" fill-opacity="0.9"/>
<circle cx="453.31" cy="319.26" r="0.85" fill="#a82e3e" fill-opacity="0.9"/>
<circle cx="449.83" cy="321.13" r="0.85" fill="#a82e3e" fill-opacity="0.9"/>
<circle cx="451.83" cy="325.16" r="0.85" fill="#a82e3e" fill-opacity="0.9"/>
<circle cx="453.11" cy="329.83" r="0.85" fill="#a82e3e" fill-opacity="0.9"/>
<circle cx="454.1" cy="314.74" r="0.85" fill="#a82e3e" fill-opacity="0.9"/>
<circle cx="452.84" cy="328.78" r="0.85" fill="#a82e3e" fill-opacity="0.9"/>
<circle cx="448.75" cy="333.65" r="0.85" fill="#a82e3e" fill-opacity="0.9"/>
<circle cx="451.12" cy="333.65" r="0.85" fill="#a82e3e" fill-opacity="0.9"/>
<circle cx="453.48" cy="333.65" r="0.85" fill="#a82e3e" fill-opacity="0.9"/>
<circle cx="455.85" cy="333.65" r="0.85" fill="#a82e3e" fill-opacity="0.9"/>
<circle cx="452.3" cy="289.95" r="0.75" fill="#c93a4b"/>
<circle cx="452.3" cy="293.95" r="0.75" fill="#c93a4b"/>
<circle cx="452.3" cy="297.95" r="0.75" fill="#c93a4b"/>
<line x1="468.2" y1="282.75" x2="468.2" y2="298.15" stroke="#3a6c9b" stroke-width="1"/>
<circle cx="468.2" cy="283.15" r="0.9" fill="#3a6c9b"/>
<path d="M468.7,298.15 L468.82,298.83 L469,299.47 L469.25,300.1 L469.54,300.7 L469.87,301.29 L470.23,301.88 L470.61,302.46 L470.98,303.05 L471.36,303.66 L471.72,304.28 L472.05,304.93 L472.35,305.6 L472.59,306.32 L472.78,307.08 L472.91,307.89 L472.95,308.75 L472.95,334.55 L463.45,334.55 L463.45,308.75 L463.49,307.89 L463.62,307.08 L463.81,306.32 L464.05,305.6 L464.35,304.93 L464.68,304.28 L465.04,303.66 L465.42,303.05 L465.79,302.46 L466.17,301.88 L466.53,301.29 L466.86,300.7 L467.15,300.1 L467.4,299.47 L467.58,298.83 L467.7,298.15 Z" fill="#dcecf9" stroke="#3a6c9b" stroke-width="1.05" stroke-linejoin="round"/>
<line x1="463.85" y1="312.45" x2="472.55" y2="312.45" stroke="#3a6c9b" stroke-width="0.7" stroke-dasharray="1 0.7"/>
<circle cx="469.33" cy="316.72" r="0.85" fill="#2f5f8a" fill-opacity="0.9"/>
<circle cx="466.02" cy="313.53" r="0.85" fill="#2f5f8a" fill-opacity="0.9"/>
<circle cx="468.73" cy="324.66" r="0.85" fill="#2f5f8a" fill-opacity="0.9"/>
<circle cx="468.47" cy="331.99" r="0.85" fill="#2f5f8a" fill-opacity="0.9"/>
<circle cx="466.99" cy="309.84" r="0.85" fill="#2f5f8a" fill-opacity="0.9"/>
<circle cx="469.72" cy="326.63" r="0.85" fill="#2f5f8a" fill-opacity="0.9"/>
<circle cx="467.14" cy="312.19" r="0.85" fill="#2f5f8a" fill-opacity="0.9"/>
<circle cx="465.9" cy="325.13" r="0.85" fill="#2f5f8a" fill-opacity="0.9"/>
<circle cx="464.75" cy="333.65" r="0.85" fill="#2f5f8a" fill-opacity="0.9"/>
<circle cx="468.2" cy="333.65" r="0.85" fill="#2f5f8a" fill-opacity="0.9"/>
<circle cx="471.65" cy="333.65" r="0.85" fill="#2f5f8a" fill-opacity="0.9"/>
<line x1="484.2" y1="288.35" x2="484.2" y2="300.45" stroke="#e6a52a" stroke-width="1"/>
<circle cx="484.2" cy="288.75" r="0.9" fill="#e6a52a"/>
<path d="M484.7,300.45 L485.85,302.95 L485.94,303.53 L486.08,304.07 L486.26,304.6 L486.49,305.12 L486.73,305.62 L487,306.11 L487.28,306.61 L487.57,307.11 L487.85,307.62 L488.12,308.15 L488.37,308.7 L488.59,309.28 L488.78,309.89 L488.93,310.53 L489.02,311.22 L489.05,311.95 L489.05,334.55 L479.35,334.55 L479.35,311.95 L479.38,311.22 L479.47,310.53 L479.62,309.89 L479.81,309.28 L480.03,308.7 L480.28,308.15 L480.55,307.62 L480.83,307.11 L481.12,306.61 L481.4,306.11 L481.67,305.62 L481.91,305.12 L482.14,304.6 L482.32,304.07 L482.46,303.53 L482.55,302.95 L483.7,300.45 Z" fill="#fcebc3" stroke="#e6a52a" stroke-width="1.05" stroke-linejoin="round"/>
<line x1="479.75" y1="318.05" x2="488.65" y2="318.05" stroke="#e6a52a" stroke-width="0.7" stroke-dasharray="1 0.7"/>
<circle cx="482.63" cy="328.08" r="0.85" fill="#d4981c" fill-opacity="0.9"/>
<circle cx="483.08" cy="316.57" r="0.85" fill="#d4981c" fill-opacity="0.9"/>
<circle cx="485.65" cy="326.16" r="0.85" fill="#d4981c" fill-opacity="0.9"/>
<circle cx="486.43" cy="326.31" r="0.85" fill="#d4981c" fill-opacity="0.9"/>
<circle cx="484.85" cy="314.13" r="0.85" fill="#d4981c" fill-opacity="0.9"/>
<circle cx="486.02" cy="322.87" r="0.85" fill="#d4981c" fill-opacity="0.9"/>
<circle cx="482.88" cy="312.89" r="0.85" fill="#d4981c" fill-opacity="0.9"/>
<circle cx="483.31" cy="311.9" r="0.85" fill="#d4981c" fill-opacity="0.9"/>
<circle cx="486.48" cy="311.93" r="0.85" fill="#d4981c" fill-opacity="0.9"/>
<circle cx="485.33" cy="324.85" r="0.85" fill="#d4981c" fill-opacity="0.9"/>
<circle cx="484.79" cy="311.83" r="0.85" fill="#d4981c" fill-opacity="0.9"/>
<circle cx="485.57" cy="322.52" r="0.85" fill="#d4981c" fill-opacity="0.9"/>
<circle cx="482.28" cy="325.66" r="0.85" fill="#d4981c" fill-opacity="0.9"/>
<circle cx="485.34" cy="316.93" r="0.85" fill="#d4981c" fill-opacity="0.9"/>
<circle cx="482.81" cy="316.19" r="0.85" fill="#d4981c" fill-opacity="0.9"/>
<circle cx="480.65" cy="333.65" r="0.85" fill="#d4981c" fill-opacity="0.9"/>
<circle cx="484.2" cy="333.65" r="0.85" fill="#d4981c" fill-opacity="0.9"/>
<circle cx="487.75" cy="333.65" r="0.85" fill="#d4981c" fill-opacity="0.9"/>
<line x1="500" y1="312.95" x2="500" y2="325.55" stroke="#14684f" stroke-width="1"/>
<circle cx="500" cy="313.35" r="0.9" fill="#14684f"/>
<path d="M500.5,325.55 L505.15,334.35 L505.15,334.55 L494.85,334.55 L494.85,334.35 L499.5,325.55 Z" fill="#a3d6c3" stroke="#14684f" stroke-width="1.05" stroke-linejoin="round"/>
<circle cx="501.32" cy="330.83" r="0.85" fill="#0f5040" fill-opacity="0.9"/>
<circle cx="499.75" cy="329.79" r="0.85" fill="#0f5040" fill-opacity="0.9"/>
<circle cx="496.31" cy="333.65" r="0.85" fill="#0f5040" fill-opacity="0.9"/>
<circle cx="498.15" cy="333.65" r="0.85" fill="#0f5040" fill-opacity="0.9"/>
<circle cx="500" cy="333.65" r="0.85" fill="#0f5040" fill-opacity="0.9"/>
<circle cx="501.85" cy="333.65" r="0.85" fill="#0f5040" fill-opacity="0.9"/>
<circle cx="503.69" cy="333.65" r="0.85" fill="#0f5040" fill-opacity="0.9"/>
<text x="215.1" y="422.6" font-style="italic" font-size="7.95" text-anchor="middle" fill="#231f20">S.pneumoniae</text>
<text x="214.8" y="432.5" font-size="7.95" text-anchor="middle" fill="#231f20">serotype 23F</text>
<text transform="translate(147.3,504.1) rotate(-90)" font-style="italic" font-size="7.0" text-anchor="middle" fill="#231f20" textLength="35.2" lengthAdjust="spacingAndGlyphs">S.pneumoniae</text>
<text transform="translate(156.3,504.1) rotate(-90)" font-size="7.3" text-anchor="middle" fill="#231f20" textLength="84.8" lengthAdjust="spacingAndGlyphs">maximum antibody titer (µg/mL)</text>
<path d="M178.8,468.1 V540.3 H250.5" fill="none" stroke="#231f20" stroke-width="1.2"/>
<line x1="176.4" y1="471.1" x2="178.8" y2="471.1" stroke="#231f20" stroke-width="1"/>
<text x="173.1" y="473.3" font-size="6.1" text-anchor="end" fill="#231f20">100</text>
<line x1="176.4" y1="488.3" x2="178.8" y2="488.3" stroke="#231f20" stroke-width="1"/>
<text x="173.1" y="490.5" font-size="6.1" text-anchor="end" fill="#231f20">10</text>
<line x1="176.4" y1="505.5" x2="178.8" y2="505.5" stroke="#231f20" stroke-width="1"/>
<text x="173.1" y="507.7" font-size="6.1" text-anchor="end" fill="#231f20">1</text>
<line x1="176.4" y1="522.7" x2="178.8" y2="522.7" stroke="#231f20" stroke-width="1"/>
<text x="173.1" y="524.9" font-size="6.1" text-anchor="end" fill="#231f20">0.1</text>
<line x1="176.4" y1="539.9" x2="178.8" y2="539.9" stroke="#231f20" stroke-width="1"/>
<text x="173.1" y="542.1" font-size="6.1" text-anchor="end" fill="#231f20">0.01</text>
<line x1="189.6" y1="540.3" x2="189.6" y2="542.6" stroke="#231f20" stroke-width="1"/>
<text transform="translate(192.1,548.8) rotate(-45)" font-size="6.0" text-anchor="end" fill="#231f20">NDMM</text>
<line x1="205.5" y1="540.3" x2="205.5" y2="542.6" stroke="#231f20" stroke-width="1"/>
<text transform="translate(208,548.8) rotate(-45)" font-size="6.0" text-anchor="end" fill="#231f20">RRMM - DARA-<tspan font-size="5.0">naive</tspan></text>
<line x1="221.5" y1="540.3" x2="221.5" y2="542.6" stroke="#231f20" stroke-width="1"/>
<text transform="translate(224,548.8) rotate(-45)" font-size="6.0" text-anchor="end" fill="#231f20">RRMM - DARA</text>
<line x1="237.3" y1="540.3" x2="237.3" y2="542.6" stroke="#231f20" stroke-width="1"/>
<text transform="translate(239.8,548.8) rotate(-45)" font-size="6.0" text-anchor="end" fill="#231f20">RRMM - TEC</text>
<path d="M189.6,450.3 V446.1 H237.3 V450.3" fill="none" stroke="#231f20" stroke-width="1.0"/>
<text x="213.45" y="445.8" font-size="5.8" text-anchor="middle" fill="#231f20">***</text>
<path d="M205.5,462 V457.8 H237.3 V462" fill="none" stroke="#231f20" stroke-width="1.0"/>
<text x="221.4" y="457.5" font-size="5.8" text-anchor="middle" fill="#231f20">*</text>
<path d="M221.5,473.8 V469.6 H237.3 V473.8" fill="none" stroke="#231f20" stroke-width="1.0"/>
<text x="229.4" y="469.3" font-size="5.8" text-anchor="middle" fill="#231f20">**</text>
<line x1="189.6" y1="477.9" x2="189.6" y2="509.7" stroke="#c93a4b" stroke-width="1"/>
<circle cx="189.6" cy="478.3" r="0.9" fill="#c93a4b"/>
<path d="M190.1,509.7 L190.79,510.29 L191.43,510.87 L192,511.43 L192.52,511.97 L192.97,512.49 L193.36,513 L193.69,513.49 L193.97,513.97 L194.18,514.42 L194.33,514.87 L194.42,515.29 L194.45,515.7 L194.45,529.7 L184.75,529.7 L184.75,515.7 L184.78,515.29 L184.87,514.87 L185.02,514.42 L185.23,513.97 L185.51,513.49 L185.84,513 L186.23,512.49 L186.68,511.97 L187.2,511.43 L187.77,510.87 L188.41,510.29 L189.1,509.7 Z" fill="#f7d0d3" stroke="#c93a4b" stroke-width="1.05" stroke-linejoin="round"/>
<circle cx="189.91" cy="527.52" r="0.85" fill="#a82e3e" fill-opacity="0.9"/>
<circle cx="190.54" cy="526.52" r="0.85" fill="#a82e3e" fill-opacity="0.9"/>
<circle cx="189.78" cy="516.94" r="0.85" fill="#a82e3e" fill-opacity="0.9"/>
<circle cx="187.81" cy="519.88" r="0.85" fill="#a82e3e" fill-opacity="0.9"/>
<circle cx="189.03" cy="517.76" r="0.85" fill="#a82e3e" fill-opacity="0.9"/>
<circle cx="189.27" cy="522.39" r="0.85" fill="#a82e3e" fill-opacity="0.9"/>
<circle cx="190.66" cy="523.97" r="0.85" fill="#a82e3e" fill-opacity="0.9"/>
<circle cx="189.28" cy="520.74" r="0.85" fill="#a82e3e" fill-opacity="0.9"/>
<circle cx="189.15" cy="523.31" r="0.85" fill="#a82e3e" fill-opacity="0.9"/>
<circle cx="191.12" cy="525.34" r="0.85" fill="#a82e3e" fill-opacity="0.9"/>
<circle cx="190.21" cy="514.68" r="0.85" fill="#a82e3e" fill-opacity="0.9"/>
<circle cx="189.07" cy="512.47" r="0.85" fill="#a82e3e" fill-opacity="0.9"/>
<circle cx="190.46" cy="518.49" r="0.85" fill="#a82e3e" fill-opacity="0.9"/>
<circle cx="187.8" cy="521.38" r="0.85" fill="#a82e3e" fill-opacity="0.9"/>
<circle cx="189.4" cy="525.9" r="0.85" fill="#a82e3e" fill-opacity="0.9"/>
<circle cx="189.73" cy="515.93" r="0.85" fill="#a82e3e" fill-opacity="0.9"/>
<circle cx="188.3" cy="525.24" r="0.85" fill="#a82e3e" fill-opacity="0.9"/>
<circle cx="191.85" cy="518.88" r="0.85" fill="#a82e3e" fill-opacity="0.9"/>
<circle cx="190.27" cy="523.01" r="0.85" fill="#a82e3e" fill-opacity="0.9"/>
<circle cx="188.09" cy="516.46" r="0.85" fill="#a82e3e" fill-opacity="0.9"/>
<circle cx="186.05" cy="528.8" r="0.85" fill="#a82e3e" fill-opacity="0.9"/>
<circle cx="188.42" cy="528.8" r="0.85" fill="#a82e3e" fill-opacity="0.9"/>
<circle cx="190.78" cy="528.8" r="0.85" fill="#a82e3e" fill-opacity="0.9"/>
<circle cx="193.15" cy="528.8" r="0.85" fill="#a82e3e" fill-opacity="0.9"/>
<line x1="205.5" y1="479.9" x2="205.5" y2="501.6" stroke="#3a6c9b" stroke-width="1"/>
<circle cx="205.5" cy="480.3" r="0.9" fill="#3a6c9b"/>
<path d="M206,501.6 L207.05,507.1 L207.14,507.71 L207.29,508.3 L207.49,508.86 L207.72,509.41 L207.99,509.95 L208.28,510.47 L208.57,511 L208.88,511.54 L209.18,512.09 L209.46,512.65 L209.73,513.24 L209.97,513.85 L210.17,514.5 L210.32,515.18 L210.42,515.92 L210.45,516.7 L210.45,529.7 L200.55,529.7 L200.55,516.7 L200.58,515.92 L200.68,515.18 L200.83,514.5 L201.03,513.85 L201.27,513.24 L201.54,512.65 L201.82,512.09 L202.12,511.54 L202.43,511 L202.72,510.47 L203.01,509.95 L203.28,509.41 L203.51,508.86 L203.71,508.3 L203.86,507.71 L203.95,507.1 L205,501.6 Z" fill="#dcecf9" stroke="#3a6c9b" stroke-width="1.05" stroke-linejoin="round"/>
<line x1="200.95" y1="520.2" x2="210.05" y2="520.2" stroke="#3a6c9b" stroke-width="0.7" stroke-dasharray="1 0.7"/>
<circle cx="205.09" cy="520.51" r="0.85" fill="#2f5f8a" fill-opacity="0.9"/>
<circle cx="203.36" cy="528.16" r="0.85" fill="#2f5f8a" fill-opacity="0.9"/>
<circle cx="204.57" cy="513.78" r="0.85" fill="#2f5f8a" fill-opacity="0.9"/>
<circle cx="205.88" cy="524.74" r="0.85" fill="#2f5f8a" fill-opacity="0.9"/>
<circle cx="204.33" cy="520.51" r="0.85" fill="#2f5f8a" fill-opacity="0.9"/>
<circle cx="205.14" cy="515.91" r="0.85" fill="#2f5f8a" fill-opacity="0.9"/>
<circle cx="203.34" cy="522.25" r="0.85" fill="#2f5f8a" fill-opacity="0.9"/>
<circle cx="205.28" cy="513.06" r="0.85" fill="#2f5f8a" fill-opacity="0.9"/>
<circle cx="201.85" cy="528.8" r="0.85" fill="#2f5f8a" fill-opacity="0.9"/>
<circle cx="205.5" cy="528.8" r="0.85" fill="#2f5f8a" fill-opacity="0.9"/>
<circle cx="209.15" cy="528.8" r="0.85" fill="#2f5f8a" fill-opacity="0.9"/>
<line x1="221.5" y1="483" x2="221.5" y2="507.6" stroke="#e6a52a" stroke-width="1"/>
<circle cx="221.5" cy="483.4" r="0.9" fill="#e6a52a"/>
<path d="M222,507.6 L222.73,508.05 L223.39,508.49 L223.99,508.92 L224.53,509.34 L225,509.74 L225.41,510.13 L225.76,510.51 L226.04,510.87 L226.27,511.22 L226.42,511.56 L226.52,511.89 L226.55,512.2 L225.45,515.7 L225.58,516.38 L225.69,517.03 L225.8,517.65 L225.89,518.23 L225.98,518.78 L226.05,519.3 L226.11,519.78 L226.16,520.23 L226.2,520.65 L226.23,521.03 L226.24,521.38 L226.25,521.7 L226.25,529.7 L216.75,529.7 L216.75,521.7 L216.76,521.38 L216.77,521.03 L216.8,520.65 L216.84,520.23 L216.89,519.78 L216.95,519.3 L217.02,518.78 L217.11,518.23 L217.2,517.65 L217.31,517.03 L217.42,516.38 L217.55,515.7 L216.45,512.2 L216.48,511.89 L216.58,511.56 L216.73,511.22 L216.96,510.87 L217.24,510.51 L217.59,510.13 L218,509.74 L218.47,509.34 L219.01,508.92 L219.61,508.49 L220.27,508.05 L221,507.6 Z" fill="#fcebc3" stroke="#e6a52a" stroke-width="1.05" stroke-linejoin="round"/>
<circle cx="222.09" cy="524.86" r="0.85" fill="#d4981c" fill-opacity="0.9"/>
<circle cx="220.85" cy="513.51" r="0.85" fill="#d4981c" fill-opacity="0.9"/>
<circle cx="219.85" cy="516.08" r="0.85" fill="#d4981c" fill-opacity="0.9"/>
<circle cx="221.38" cy="524.91" r="0.85" fill="#d4981c" fill-opacity="0.9"/>
<circle cx="221.95" cy="522.44" r="0.85" fill="#d4981c" fill-opacity="0.9"/>
<circle cx="219.55" cy="516.84" r="0.85" fill="#d4981c" fill-opacity="0.9"/>
<circle cx="223.12" cy="512.6" r="0.85" fill="#d4981c" fill-opacity="0.9"/>
<circle cx="219.86" cy="513.75" r="0.85" fill="#d4981c" fill-opacity="0.9"/>
<circle cx="220.55" cy="514.32" r="0.85" fill="#d4981c" fill-opacity="0.9"/>
<circle cx="222.28" cy="524.75" r="0.85" fill="#d4981c" fill-opacity="0.9"/>
<circle cx="222.28" cy="518.88" r="0.85" fill="#d4981c" fill-opacity="0.9"/>
<circle cx="223.18" cy="517.02" r="0.85" fill="#d4981c" fill-opacity="0.9"/>
<circle cx="223.63" cy="511.06" r="0.85" fill="#d4981c" fill-opacity="0.9"/>
<circle cx="222.49" cy="513.99" r="0.85" fill="#d4981c" fill-opacity="0.9"/>
<circle cx="221.21" cy="515.28" r="0.85" fill="#d4981c" fill-opacity="0.9"/>
<circle cx="218.05" cy="528.8" r="0.85" fill="#d4981c" fill-opacity="0.9"/>
<circle cx="221.5" cy="528.8" r="0.85" fill="#d4981c" fill-opacity="0.9"/>
<circle cx="224.95" cy="528.8" r="0.85" fill="#d4981c" fill-opacity="0.9"/>
<line x1="237.3" y1="519.2" x2="237.3" y2="525.8" stroke="#14684f" stroke-width="1"/>
<circle cx="237.3" cy="519.6" r="0.9" fill="#14684f"/>
<path d="M237.8,525.8 L238.05,526.24 L238.32,526.67 L238.61,527.07 L238.94,527.45 L239.29,527.8 L239.66,528.14 L240.06,528.45 L240.49,528.75 L240.94,529.02 L241.42,529.27 L241.92,529.49 L242.45,529.7 L232.15,529.7 L232.68,529.49 L233.18,529.27 L233.66,529.02 L234.11,528.75 L234.54,528.45 L234.94,528.14 L235.31,527.8 L235.66,527.45 L235.99,527.07 L236.28,526.67 L236.55,526.24 L236.8,525.8 Z" fill="#a3d6c3" stroke="#14684f" stroke-width="1.05" stroke-linejoin="round"/>
<circle cx="237.28" cy="527.44" r="0.85" fill="#0f5040" fill-opacity="0.9"/>
<circle cx="237.87" cy="528.45" r="0.85" fill="#0f5040" fill-opacity="0.9"/>
<circle cx="234.61" cy="528.8" r="0.85" fill="#0f5040" fill-opacity="0.9"/>
<circle cx="235.96" cy="528.8" r="0.85" fill="#0f5040" fill-opacity="0.9"/>
<circle cx="237.3" cy="528.8" r="0.85" fill="#0f5040" fill-opacity="0.9"/>
<circle cx="238.64" cy="528.8" r="0.85" fill="#0f5040" fill-opacity="0.9"/>
<circle cx="239.99" cy="528.8" r="0.85" fill="#0f5040" fill-opacity="0.9"/>
<text x="346.5" y="422.6" font-style="italic" font-size="7.95" text-anchor="middle" fill="#231f20">S.pneumoniae</text>
<text x="346.2" y="432.5" font-size="7.95" text-anchor="middle" fill="#231f20">serotype 33F</text>
<text transform="translate(278.7,504.1) rotate(-90)" font-style="italic" font-size="7.0" text-anchor="middle" fill="#231f20" textLength="35.2" lengthAdjust="spacingAndGlyphs">S.pneumoniae</text>
<text transform="translate(287.7,504.1) rotate(-90)" font-size="7.3" text-anchor="middle" fill="#231f20" textLength="84.8" lengthAdjust="spacingAndGlyphs">maximum antibody titer (µg/mL)</text>
<path d="M310.2,468.1 V540.3 H381.9" fill="none" stroke="#231f20" stroke-width="1.2"/>
<line x1="307.8" y1="471.1" x2="310.2" y2="471.1" stroke="#231f20" stroke-width="1"/>
<text x="304.5" y="473.3" font-size="6.1" text-anchor="end" fill="#231f20">100</text>
<line x1="307.8" y1="488.3" x2="310.2" y2="488.3" stroke="#231f20" stroke-width="1"/>
<text x="304.5" y="490.5" font-size="6.1" text-anchor="end" fill="#231f20">10</text>
<line x1="307.8" y1="505.5" x2="310.2" y2="505.5" stroke="#231f20" stroke-width="1"/>
<text x="304.5" y="507.7" font-size="6.1" text-anchor="end" fill="#231f20">1</text>
<line x1="307.8" y1="522.7" x2="310.2" y2="522.7" stroke="#231f20" stroke-width="1"/>
<text x="304.5" y="524.9" font-size="6.1" text-anchor="end" fill="#231f20">0.1</text>
<line x1="307.8" y1="539.9" x2="310.2" y2="539.9" stroke="#231f20" stroke-width="1"/>
<text x="304.5" y="542.1" font-size="6.1" text-anchor="end" fill="#231f20">0.01</text>
<line x1="321" y1="540.3" x2="321" y2="542.6" stroke="#231f20" stroke-width="1"/>
<text transform="translate(323.5,548.8) rotate(-45)" font-size="6.0" text-anchor="end" fill="#231f20">NDMM</text>
<line x1="336.9" y1="540.3" x2="336.9" y2="542.6" stroke="#231f20" stroke-width="1"/>
<text transform="translate(339.4,548.8) rotate(-45)" font-size="6.0" text-anchor="end" fill="#231f20">RRMM - DARA-<tspan font-size="5.0">naive</tspan></text>
<line x1="352.9" y1="540.3" x2="352.9" y2="542.6" stroke="#231f20" stroke-width="1"/>
<text transform="translate(355.4,548.8) rotate(-45)" font-size="6.0" text-anchor="end" fill="#231f20">RRMM - DARA</text>
<line x1="368.7" y1="540.3" x2="368.7" y2="542.6" stroke="#231f20" stroke-width="1"/>
<text transform="translate(371.2,548.8) rotate(-45)" font-size="6.0" text-anchor="end" fill="#231f20">RRMM - TEC</text>
<path d="M321,450.3 V446.1 H368.7 V450.3" fill="none" stroke="#231f20" stroke-width="1.0"/>
<text x="344.85" y="445.8" font-size="5.8" text-anchor="middle" fill="#231f20">***</text>
<path d="M336.9,462 V457.8 H368.7 V462" fill="none" stroke="#231f20" stroke-width="1.0"/>
<text x="352.8" y="457.5" font-size="5.8" text-anchor="middle" fill="#231f20">***</text>
<path d="M352.9,473.8 V469.6 H368.7 V473.8" fill="none" stroke="#231f20" stroke-width="1.0"/>
<text x="360.8" y="469.3" font-size="5.8" text-anchor="middle" fill="#231f20">***</text>
<line x1="321" y1="477.9" x2="321" y2="496.9" stroke="#c93a4b" stroke-width="1"/>
<circle cx="321" cy="478.3" r="0.9" fill="#c93a4b"/>
<path d="M321.5,496.9 L321.62,497.52 L321.8,498.11 L322.05,498.68 L322.34,499.23 L322.67,499.77 L323.03,500.31 L323.41,500.85 L323.78,501.39 L324.16,501.94 L324.52,502.51 L324.85,503.1 L325.15,503.72 L325.39,504.37 L325.58,505.07 L325.71,505.81 L325.75,506.6 L325.75,529.7 L316.25,529.7 L316.25,506.6 L316.29,505.81 L316.42,505.07 L316.61,504.37 L316.85,503.72 L317.15,503.1 L317.48,502.51 L317.84,501.94 L318.22,501.39 L318.59,500.85 L318.97,500.31 L319.33,499.77 L319.66,499.23 L319.95,498.68 L320.2,498.11 L320.38,497.52 L320.5,496.9 Z" fill="#f7d0d3" stroke="#c93a4b" stroke-width="1.05" stroke-linejoin="round"/>
<line x1="316.65" y1="518.7" x2="325.35" y2="518.7" stroke="#c93a4b" stroke-width="0.7" stroke-dasharray="1 0.7"/>
<circle cx="322.69" cy="519.6" r="0.85" fill="#a82e3e" fill-opacity="0.9"/>
<circle cx="320.88" cy="526.28" r="0.85" fill="#a82e3e" fill-opacity="0.9"/>
<circle cx="319.3" cy="524.27" r="0.85" fill="#a82e3e" fill-opacity="0.9"/>
<circle cx="319.27" cy="518.43" r="0.85" fill="#a82e3e" fill-opacity="0.9"/>
<circle cx="321.61" cy="511.93" r="0.85" fill="#a82e3e" fill-opacity="0.9"/>
<circle cx="321.04" cy="512.72" r="0.85" fill="#a82e3e" fill-opacity="0.9"/>
<circle cx="320.1" cy="511.34" r="0.85" fill="#a82e3e" fill-opacity="0.9"/>
<circle cx="322.98" cy="526.85" r="0.85" fill="#a82e3e" fill-opacity="0.9"/>
<circle cx="321.52" cy="519.31" r="0.85" fill="#a82e3e" fill-opacity="0.9"/>
<circle cx="320.38" cy="521.79" r="0.85" fill="#a82e3e" fill-opacity="0.9"/>
<circle cx="320.19" cy="518.24" r="0.85" fill="#a82e3e" fill-opacity="0.9"/>
<circle cx="321.92" cy="515.14" r="0.85" fill="#a82e3e" fill-opacity="0.9"/>
<circle cx="322.58" cy="521.48" r="0.85" fill="#a82e3e" fill-opacity="0.9"/>
<circle cx="322.91" cy="510.81" r="0.85" fill="#a82e3e" fill-opacity="0.9"/>
<circle cx="319.24" cy="510.88" r="0.85" fill="#a82e3e" fill-opacity="0.9"/>
<circle cx="320.72" cy="519.52" r="0.85" fill="#a82e3e" fill-opacity="0.9"/>
<circle cx="320.7" cy="525.97" r="0.85" fill="#a82e3e" fill-opacity="0.9"/>
<circle cx="322.44" cy="512.1" r="0.85" fill="#a82e3e" fill-opacity="0.9"/>
<circle cx="321.68" cy="516.85" r="0.85" fill="#a82e3e" fill-opacity="0.9"/>
<circle cx="320.68" cy="506.78" r="0.85" fill="#a82e3e" fill-opacity="0.9"/>
<circle cx="317.55" cy="528.8" r="0.85" fill="#a82e3e" fill-opacity="0.9"/>
<circle cx="319.85" cy="528.8" r="0.85" fill="#a82e3e" fill-opacity="0.9"/>
<circle cx="322.15" cy="528.8" r="0.85" fill="#a82e3e" fill-opacity="0.9"/>
<circle cx="324.45" cy="528.8" r="0.85" fill="#a82e3e" fill-opacity="0.9"/>
<circle cx="321" cy="489.6" r="0.75" fill="#c93a4b"/>
<line x1="336.9" y1="477.9" x2="336.9" y2="488.5" stroke="#3a6c9b" stroke-width="1"/>
<circle cx="336.9" cy="478.3" r="0.9" fill="#3a6c9b"/>
<path d="M337.4,488.5 L338.13,489.4 L338.79,490.27 L339.39,491.12 L339.93,491.94 L340.4,492.73 L340.81,493.5 L341.16,494.25 L341.44,494.97 L341.67,495.67 L341.82,496.34 L341.92,496.98 L341.95,497.6 L341.95,529.7 L331.85,529.7 L331.85,497.6 L331.88,496.98 L331.98,496.34 L332.13,495.67 L332.36,494.97 L332.64,494.25 L332.99,493.5 L333.4,492.73 L333.87,491.94 L334.41,491.12 L335.01,490.27 L335.67,489.4 L336.4,488.5 Z" fill="#dcecf9" stroke="#3a6c9b" stroke-width="1.05" stroke-linejoin="round"/>
<line x1="332.25" y1="508.1" x2="341.55" y2="508.1" stroke="#3a6c9b" stroke-width="0.7" stroke-dasharray="1 0.7"/>
<circle cx="335.78" cy="492.69" r="0.85" fill="#2f5f8a" fill-opacity="0.9"/>
<circle cx="335.97" cy="497.93" r="0.85" fill="#2f5f8a" fill-opacity="0.9"/>
<circle cx="336.64" cy="514.21" r="0.85" fill="#2f5f8a" fill-opacity="0.9"/>
<circle cx="336.81" cy="522.26" r="0.85" fill="#2f5f8a" fill-opacity="0.9"/>
<circle cx="334.55" cy="499.42" r="0.85" fill="#2f5f8a" fill-opacity="0.9"/>
<circle cx="335.56" cy="496.47" r="0.85" fill="#2f5f8a" fill-opacity="0.9"/>
<circle cx="337.08" cy="495.72" r="0.85" fill="#2f5f8a" fill-opacity="0.9"/>
<circle cx="338.9" cy="495.01" r="0.85" fill="#2f5f8a" fill-opacity="0.9"/>
<circle cx="333.15" cy="528.8" r="0.85" fill="#2f5f8a" fill-opacity="0.9"/>
<circle cx="336.9" cy="528.8" r="0.85" fill="#2f5f8a" fill-opacity="0.9"/>
<circle cx="340.65" cy="528.8" r="0.85" fill="#2f5f8a" fill-opacity="0.9"/>
<line x1="352.9" y1="481" x2="352.9" y2="496.1" stroke="#e6a52a" stroke-width="1"/>
<circle cx="352.9" cy="481.4" r="0.9" fill="#e6a52a"/>
<path d="M353.4,496.1 L354.13,496.35 L354.79,496.59 L355.39,496.82 L355.93,497.04 L356.4,497.26 L356.81,497.48 L357.16,497.68 L357.44,497.88 L357.67,498.07 L357.82,498.25 L357.92,498.43 L357.95,498.6 L356.95,502.6 L357.08,503.17 L357.19,503.71 L357.3,504.23 L357.39,504.71 L357.48,505.17 L357.55,505.6 L357.61,506 L357.66,506.38 L357.7,506.73 L357.73,507.04 L357.74,507.34 L357.75,507.6 L357.75,529.7 L348.05,529.7 L348.05,507.6 L348.06,507.34 L348.07,507.04 L348.1,506.73 L348.14,506.38 L348.19,506 L348.25,505.6 L348.32,505.17 L348.41,504.71 L348.5,504.23 L348.61,503.71 L348.72,503.17 L348.85,502.6 L347.85,498.6 L347.88,498.43 L347.98,498.25 L348.13,498.07 L348.36,497.88 L348.64,497.68 L348.99,497.48 L349.4,497.26 L349.87,497.04 L350.41,496.82 L351.01,496.59 L351.67,496.35 L352.4,496.1 Z" fill="#fcebc3" stroke="#e6a52a" stroke-width="1.05" stroke-linejoin="round"/>
<circle cx="353.34" cy="527.33" r="0.85" fill="#d4981c" fill-opacity="0.9"/>
<circle cx="352.94" cy="523.82" r="0.85" fill="#d4981c" fill-opacity="0.9"/>
<circle cx="353.05" cy="520.83" r="0.85" fill="#d4981c" fill-opacity="0.9"/>
<circle cx="354.06" cy="507.99" r="0.85" fill="#d4981c" fill-opacity="0.9"/>
<circle cx="354.54" cy="503.76" r="0.85" fill="#d4981c" fill-opacity="0.9"/>
<circle cx="351.51" cy="518.42" r="0.85" fill="#d4981c" fill-opacity="0.9"/>
<circle cx="354.45" cy="505.81" r="0.85" fill="#d4981c" fill-opacity="0.9"/>
<circle cx="354.47" cy="499.42" r="0.85" fill="#d4981c" fill-opacity="0.9"/>
<circle cx="350.42" cy="520.27" r="0.85" fill="#d4981c" fill-opacity="0.9"/>
<circle cx="354.75" cy="510.73" r="0.85" fill="#d4981c" fill-opacity="0.9"/>
<circle cx="352.52" cy="527.06" r="0.85" fill="#d4981c" fill-opacity="0.9"/>
<circle cx="353.48" cy="513.07" r="0.85" fill="#d4981c" fill-opacity="0.9"/>
<circle cx="352.87" cy="526.01" r="0.85" fill="#d4981c" fill-opacity="0.9"/>
<circle cx="352.41" cy="521.78" r="0.85" fill="#d4981c" fill-opacity="0.9"/>
<circle cx="351.42" cy="511.36" r="0.85" fill="#d4981c" fill-opacity="0.9"/>
<circle cx="349.35" cy="528.8" r="0.85" fill="#d4981c" fill-opacity="0.9"/>
<circle cx="352.9" cy="528.8" r="0.85" fill="#d4981c" fill-opacity="0.9"/>
<circle cx="356.45" cy="528.8" r="0.85" fill="#d4981c" fill-opacity="0.9"/>
<line x1="368.7" y1="512.7" x2="368.7" y2="526.3" stroke="#14684f" stroke-width="1"/>
<circle cx="368.7" cy="513.1" r="0.9" fill="#14684f"/>
<path d="M369.2,526.3 L369.45,526.69 L369.72,527.06 L370.01,527.41 L370.34,527.74 L370.69,528.05 L371.06,528.34 L371.46,528.61 L371.89,528.87 L372.34,529.11 L372.82,529.32 L373.32,529.52 L373.85,529.7 L363.55,529.7 L364.08,529.52 L364.58,529.32 L365.06,529.11 L365.51,528.87 L365.94,528.61 L366.34,528.34 L366.71,528.05 L367.06,527.74 L367.39,527.41 L367.68,527.06 L367.95,526.69 L368.2,526.3 Z" fill="#a3d6c3" stroke="#14684f" stroke-width="1.05" stroke-linejoin="round"/>
<circle cx="368.97" cy="527.82" r="0.85" fill="#0f5040" fill-opacity="0.9"/>
<circle cx="369.14" cy="528.27" r="0.85" fill="#0f5040" fill-opacity="0.9"/>
<circle cx="366.15" cy="528.8" r="0.85" fill="#0f5040" fill-opacity="0.9"/>
<circle cx="367.43" cy="528.8" r="0.85" fill="#0f5040" fill-opacity="0.9"/>
<circle cx="368.7" cy="528.8" r="0.85" fill="#0f5040" fill-opacity="0.9"/>
<circle cx="369.97" cy="528.8" r="0.85" fill="#0f5040" fill-opacity="0.9"/>
<circle cx="371.25" cy="528.8" r="0.85" fill="#0f5040" fill-opacity="0.9"/>
<rect x="0" y="0" width="520" height="1.1" fill="#626262"/>
<rect x="0" y="0" width="1.2" height="596" fill="#585858"/>
<rect x="518.9" y="0" width="1.1" height="596" fill="#585858"/>
<rect x="0" y="594.6" width="520" height="1.4" fill="#585858"/>
</svg></body></html>
